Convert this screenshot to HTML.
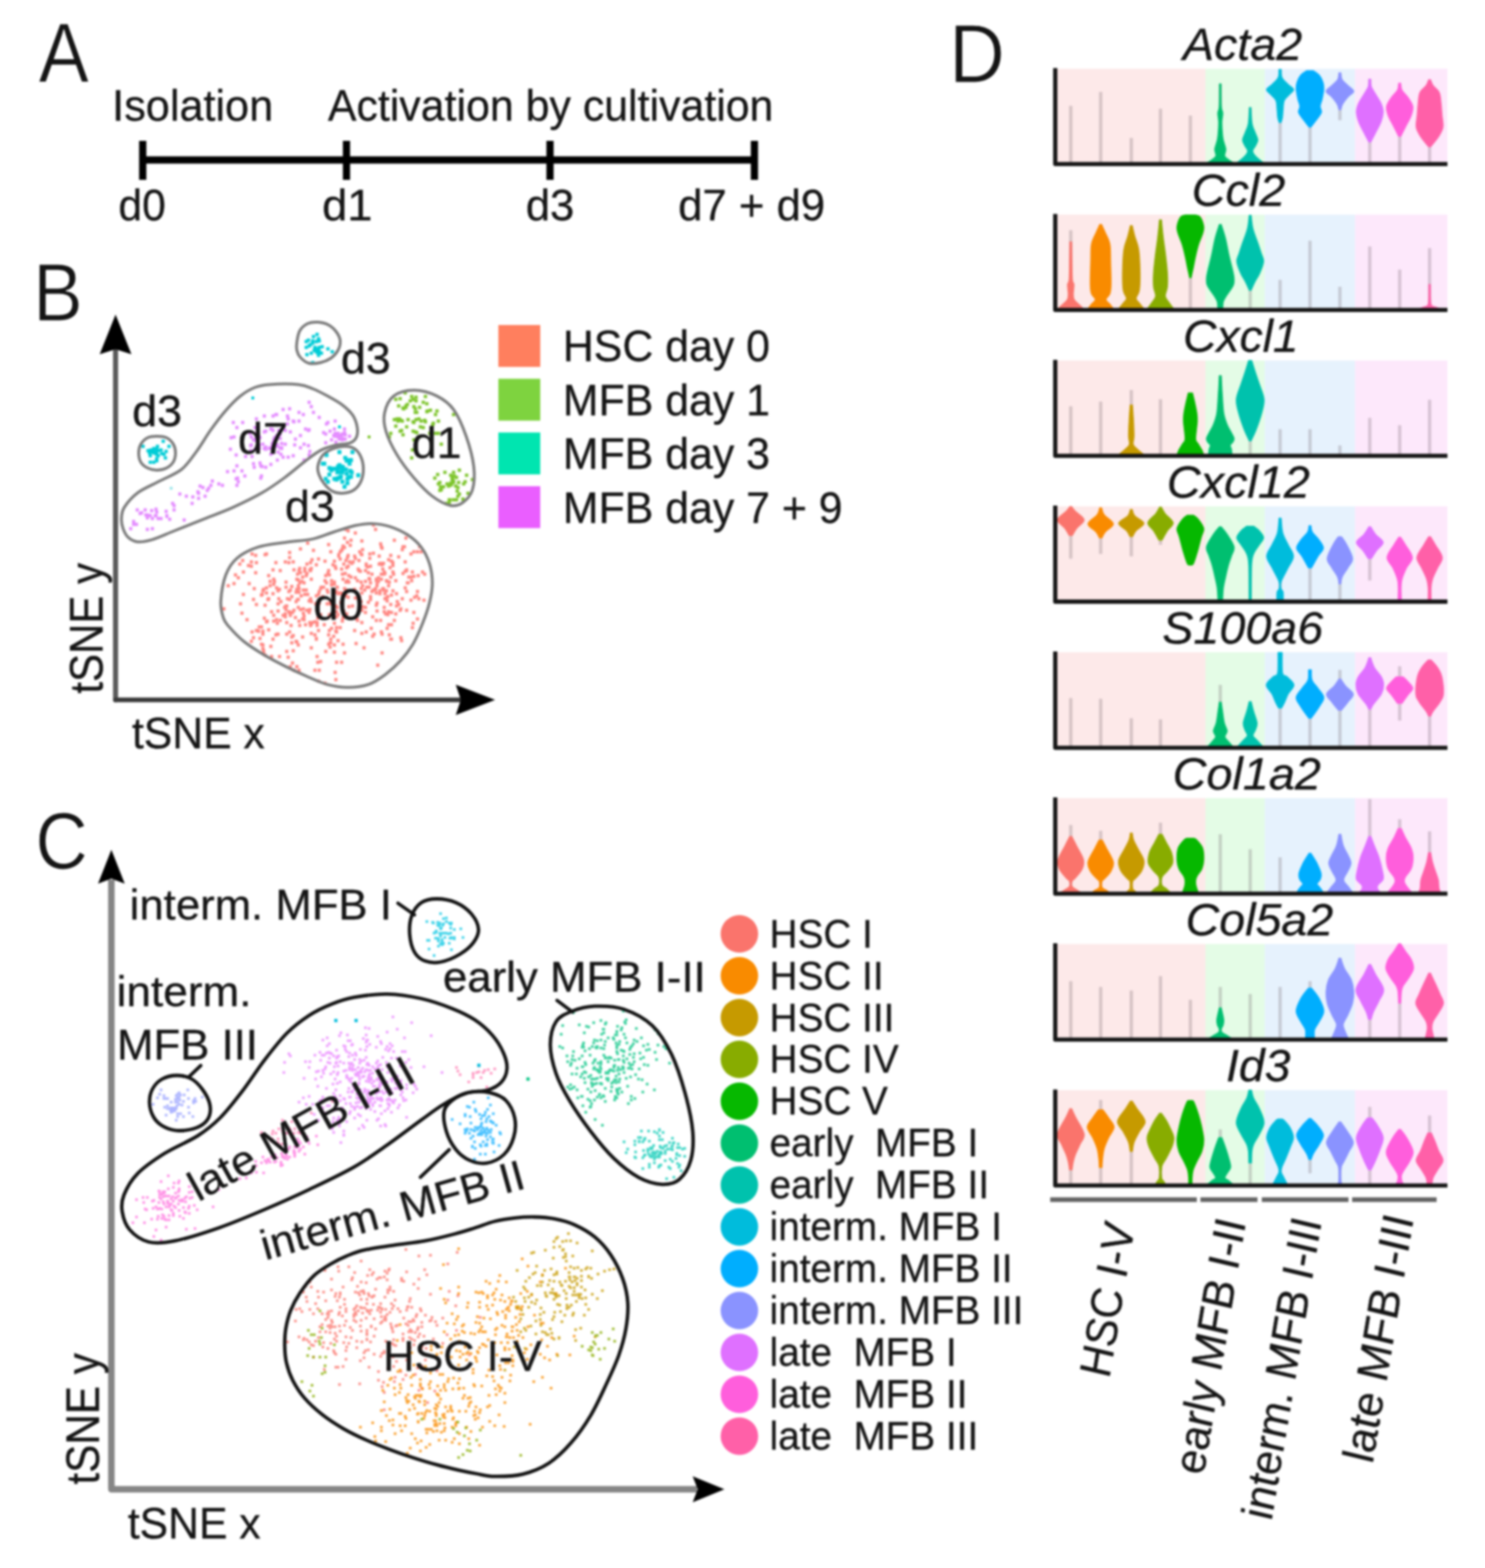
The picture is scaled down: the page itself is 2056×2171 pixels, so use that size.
<!DOCTYPE html>
<html lang="en">
<head>
<meta charset="utf-8">
<title>Figure: HSC activation tSNE and violin plots</title>
<style>
html,body{margin:0;padding:0;background:#fff;}
body{width:2056px;height:2171px;overflow:hidden;}
svg{display:block;font-family:"Liberation Sans",Arial,Helvetica,sans-serif;filter:blur(1.8px);}
svg text{fill:#141414;}
</style>
</head>
<body>
<svg width="2056" height="2171" viewBox="0 0 2056 2171">
<rect x="0" y="0" width="2056" height="2171" fill="#fff"/>
<!-- part_a -->
<text transform="translate(53.4 113.6) scale(0.890 1)" font-size="117.3" fill="#000" stroke="#fff" stroke-width="1.2" stroke-linejoin="round">A</text>
<text x="155.3" y="167.0" font-size="62.0" textLength="222.9" lengthAdjust="spacingAndGlyphs" stroke="#141414" stroke-width="0.4" xml:space="preserve">Isolation</text>
<text x="453.9" y="167.0" font-size="62.0" textLength="617.0" lengthAdjust="spacingAndGlyphs" stroke="#141414" stroke-width="0.4" xml:space="preserve">Activation by cultivation</text>
<g stroke="#000" stroke-width="10" fill="none">
<path d="M197.5,221.5H1044.5"/>
<path d="M197.6,195V249"/>
<path d="M479.7,195V249"/>
<path d="M761.5,195V249"/>
<path d="M1044.5,195V249"/>
</g>
<text x="163.9" y="305.0" font-size="61.0" textLength="65.6" lengthAdjust="spacingAndGlyphs" stroke="#141414" stroke-width="0.4" xml:space="preserve">d0</text>
<text x="445.9" y="305.0" font-size="61.0" textLength="69.9" lengthAdjust="spacingAndGlyphs" stroke="#141414" stroke-width="0.4" xml:space="preserve">d1</text>
<text x="728.0" y="305.0" font-size="61.0" textLength="67.2" lengthAdjust="spacingAndGlyphs" stroke="#141414" stroke-width="0.4" xml:space="preserve">d3</text>
<text x="939.0" y="305.0" font-size="61.0" textLength="203.4" lengthAdjust="spacingAndGlyphs" stroke="#141414" stroke-width="0.4" xml:space="preserve">d7 + d9</text>
<!-- part_b -->
<text transform="translate(45.7 443.6) scale(0.917 1)" font-size="112.6" fill="#000" stroke="#fff" stroke-width="1.2" stroke-linejoin="round">B</text>
<path d="M160,486V969" fill="none" stroke="#585858" stroke-width="7" stroke-linecap="round"/>
<path d="M160,969H640" fill="none" stroke="#3a3a3a" stroke-width="6.5" stroke-linecap="round"/>
<path d="M160.0,435.5L182.0,490.5L160.0,483.5L138.0,490.5Z" fill="#000"/>
<path d="M685.5,969.0L631.0,990.0L638.0,969.0L631.0,948.0Z" fill="#000"/>
<text x="182.7" y="1036.0" font-size="62.0" textLength="183.9" lengthAdjust="spacingAndGlyphs" stroke="#141414" stroke-width="0.4" xml:space="preserve">tSNE x</text>
<text transform="translate(142.0 959.5) rotate(-90.00)" x="-0.9" y="0" font-size="64.0" textLength="181.0" lengthAdjust="spacingAndGlyphs" stroke="#141414" stroke-width="0.4" xml:space="preserve">tSNE y</text>
<path d="M563,789h0M542,865h0M434,762h0M534,850h0M473,917h0M468,822h0M379,809h0M385,836h0M471,821h0M367,907h0M539,879h0M399,910h0M355,837h0M500,767h0M420,817h0M495,859h0M404,812h0M429,789h0M335,849h0M518,878h0M550,833h0M483,840h0M498,827h0M476,781h0M530,815h0M474,859h0M510,834h0M531,815h0M475,892h0M401,875h0M563,819h0M395,854h0M544,779h0M588,795h0M545,795h0M529,904h0M358,874h0M515,819h0M356,873h0M412,795h0M354,769h0M583,764h0M415,787h0M479,825h0M536,805h0M423,865h0M401,830h0M501,845h0M349,875h0M479,776h0M481,804h0M514,870h0M452,807h0M522,846h0M351,883h0M450,804h0M450,777h0M422,791h0M528,757h0M383,858h0M486,748h0M411,802h0M513,807h0M465,787h0M546,748h0M561,791h0M528,875h0M538,847h0M431,787h0M360,884h0M436,861h0M400,779h0M364,898h0M448,813h0M442,819h0M554,845h0M529,782h0M473,822h0M552,837h0M466,875h0M506,848h0M404,890h0M438,782h0M508,813h0M477,745h0M420,849h0M453,836h0M345,808h0M504,897h0M413,841h0M337,823h0M472,834h0M450,946h0M389,833h0M364,893h0M374,811h0M467,813h0M486,799h0M485,755h0M472,821h0M410,888h0M401,848h0M392,852h0M548,804h0M578,857h0M541,885h0M540,786h0M415,807h0M566,799h0M533,829h0M370,860h0M512,802h0M483,797h0M488,839h0M507,875h0M455,879h0M560,757h0M474,824h0M330,800h0M431,864h0M354,793h0M410,833h0M552,771h0M567,799h0M510,793h0M402,852h0M458,885h0M482,769h0M444,916h0M528,802h0M369,821h0M521,838h0M422,787h0M430,779h0M388,859h0M396,806h0M571,869h0M506,805h0M455,754h0M466,819h0M385,878h0M455,855h0M394,841h0M526,822h0M482,827h0M379,802h0M439,862h0M436,928h0M371,830h0M378,789h0M366,856h0M563,845h0M457,896h0M455,790h0M382,779h0M401,772h0M489,778h0M369,767h0M475,855h0M385,846h0M461,782h0M363,823h0M497,790h0M437,836h0M310,843h0M527,859h0M530,788h0M396,844h0M387,816h0M414,928h0M378,885h0M372,872h0M428,848h0M506,841h0M445,813h0M570,804h0M454,820h0M444,851h0M486,856h0M364,818h0M573,764h0M524,800h0M501,768h0M429,862h0M549,822h0M520,733h0M498,829h0M500,815h0M561,814h0M501,877h0M542,777h0M479,806h0M463,893h0M365,901h0M581,757h0M324,808h0M520,815h0M401,765h0M421,807h0M439,866h0M513,826h0M438,825h0M404,882h0M376,847h0M538,865h0M473,788h0M569,799h0M400,847h0M441,873h0M538,775h0M465,839h0M413,893h0M359,868h0M557,829h0M455,892h0M491,770h0M516,881h0M571,792h0M482,735h0M459,810h0M342,858h0M587,831h0M459,809h0M410,820h0M383,814h0M513,784h0M419,882h0M462,830h0M513,830h0M403,866h0M532,847h0M396,839h0M569,767h0M464,931h0M522,809h0M512,767h0M546,859h0M411,816h0M558,794h0M468,887h0M569,831h0M414,860h0M533,794h0M430,866h0M555,843h0M535,804h0M453,817h0M438,884h0M400,819h0M500,806h0M451,902h0M333,836h0M468,851h0M580,829h0M565,807h0M402,817h0M465,941h0M379,860h0M480,850h0M384,863h0M425,781h0M417,825h0M556,887h0M563,790h0M495,828h0M375,895h0M398,829h0M444,815h0M429,844h0M459,870h0M364,874h0M456,873h0M531,817h0M471,764h0M316,811h0M459,804h0M480,786h0M397,878h0M462,881h0M407,845h0M573,798h0M431,833h0M541,799h0M544,783h0M531,795h0M522,811h0M465,820h0M458,764h0M422,823h0M388,790h0M431,877h0M476,846h0M380,805h0M478,794h0M535,828h0M542,848h0M539,806h0M507,783h0M425,845h0M517,727h0M442,835h0M492,773h0M521,804h0M482,784h0M474,860h0M336,776h0M372,829h0M535,818h0M529,878h0M537,826h0M365,816h0M532,792h0M348,784h0M533,822h0M544,792h0M544,818h0M413,803h0M441,774h0M413,811h0M497,776h0M365,903h0M492,800h0M385,818h0M362,892h0M562,745h0M538,811h0M466,847h0M386,829h0M477,904h0M529,759h0M426,823h0M574,827h0M501,862h0M395,778h0M521,859h0M572,863h0M561,778h0M419,799h0M362,824h0M449,865h0M376,909h0M479,733h0M463,806h0M494,857h0M464,784h0M466,917h0M517,766h0M579,797h0M511,813h0M523,921h0M440,917h0M496,788h0M413,830h0M442,928h0M425,794h0M355,873h0M460,850h0M502,840h0M411,889h0M432,862h0M524,805h0M424,797h0M344,783h0M491,816h0M471,774h0M475,802h0M456,851h0M379,852h0M549,839h0M491,873h0M355,779h0M531,780h0M578,819h0M416,760h0M406,901h0M577,825h0M465,874h0M428,832h0M507,781h0M512,773h0M367,768h0M441,823h0M536,870h0M458,890h0M409,855h0M536,832h0M407,928h0M525,770h0M412,830h0M411,923h0M387,909h0M424,817h0M542,885h0M436,879h0M496,849h0M348,778h0M494,856h0M555,883h0M414,820h0M422,823h0M463,863h0M471,869h0M395,850h0M469,770h0M500,833h0M431,802h0M527,753h0M557,761h0M457,836h0M407,789h0M462,847h0M414,815h0M521,802h0M441,943h0M541,837h0M492,738h0M426,752h0M419,857h0M406,778h0M378,822h0M492,828h0M578,764h0M528,795h0M439,909h0M351,830h0M406,880h0M337,792h0M372,797h0M430,790h0M481,751h0M348,888h0M499,791h0M477,758h0M415,866h0M432,775h0M421,858h0M487,780h0M438,885h0M430,829h0M440,856h0M474,760h0M517,817h0M564,807h0M502,761h0M397,839h0M484,778h0M405,918h0M326,796h0M558,757h0M463,777h0M369,814h0M396,813h0M516,854h0M522,835h0M374,805h0M511,801h0M454,794h0M502,811h0M397,902h0M548,850h0M421,853h0M367,838h0M456,796h0M474,795h0M537,851h0M416,793h0M447,826h0M463,903h0M532,841h0M473,762h0M397,862h0M526,818h0M481,772h0M475,756h0M402,923h0M483,806h0M349,767h0M466,854h0M501,749h0M498,764h0M414,790h0M382,879h0M506,790h0M542,824h0M525,781h0M515,795h0M466,869h0M520,816h0M479,817h0M505,817h0M527,780h0M332,781h0M451,797h0M418,805h0M405,848h0M509,785h0M457,890h0M364,878h0M495,804h0M521,821h0M404,826h0M463,809h0M384,878h0M420,843h0M493,891h0M467,841h0M369,861h0M573,848h0M416,844h0M362,868h0M477,815h0M439,842h0M541,769h0M501,821h0M585,792h0M431,897h0M457,834h0M352,815h0M440,842h0M469,768h0" stroke="#ff8782" stroke-width="4.4" stroke-linecap="square" fill="none"/>
<path d="M335,652h0M330,667h0M457,597h0M427,596h0M468,600h0M398,576h0M414,571h0M383,603h0M359,605h0M377,614h0M349,632h0M347,617h0M378,576h0M477,599h0M355,580h0M478,602h0M208,714h0M219,718h0M380,606h0M390,614h0M241,706h0M340,632h0M361,645h0M477,594h0M384,637h0M181,732h0M381,607h0M388,601h0M463,594h0M211,732h0M434,571h0M327,663h0M281,675h0M429,625h0M388,607h0M189,726h0M239,697h0M275,690h0M352,647h0M266,697h0M392,567h0M323,585h0M360,641h0M292,672h0M215,714h0M374,620h0M384,618h0M362,659h0M249,684h0M348,605h0M216,705h0M474,601h0M329,662h0M470,608h0M382,574h0M354,608h0M399,633h0M395,596h0M204,717h0M395,615h0M465,612h0M353,622h0M211,718h0M464,604h0M358,601h0M275,683h0M442,578h0M204,713h0M327,630h0M328,645h0M386,596h0M379,609h0M320,606h0M185,726h0M401,566h0M376,594h0M346,600h0M462,603h0M373,621h0M468,605h0M382,608h0M351,642h0M392,633h0M452,587h0M409,608h0M420,574h0M355,600h0M474,607h0M359,621h0M223,718h0M428,557h0M210,707h0M428,630h0M431,563h0M474,609h0M406,583h0M353,592h0M368,622h0M368,597h0M376,588h0M206,714h0M389,629h0M423,594h0M368,619h0M231,715h0M255,720h0M336,585h0M324,605h0M388,620h0M359,616h0M393,594h0M364,615h0M473,602h0M484,604h0M351,609h0M284,687h0M398,587h0M328,672h0M294,666h0M328,592h0M277,673h0M406,631h0M464,600h0M377,616h0M451,601h0M354,610h0M399,580h0M231,714h0M235,719h0M421,637h0M408,616h0M287,679h0M385,626h0M427,617h0M383,574h0M289,676h0M414,583h0M363,646h0M464,583h0M366,598h0M375,643h0M454,585h0M469,604h0M258,687h0M375,594h0M378,596h0M347,624h0M384,616h0M360,606h0M416,620h0M451,613h0M407,584h0M194,711h0M339,659h0M366,621h0M366,576h0M315,653h0M217,709h0M330,667h0M375,629h0M472,603h0M416,603h0M274,681h0M241,700h0M190,706h0M428,595h0M402,598h0M448,599h0M308,672h0M324,652h0M390,621h0M421,615h0M303,670h0M267,688h0M319,622h0M202,713h0M478,608h0M196,710h0M459,609h0M348,616h0M216,714h0M390,620h0M185,722h0M230,708h0M378,627h0M361,662h0M379,611h0M368,647h0M201,706h0M204,733h0" stroke="#e48cff" stroke-width="4.4" stroke-linecap="square" fill="none"/>
<path d="M618,697h0M642,670h0M610,674h0M624,658h0M641,691h0M558,602h0M635,668h0M607,600h0M633,680h0M632,692h0M603,574h0M605,569h0M581,564h0M552,562h0M609,679h0M557,583h0M623,672h0M619,670h0M541,600h0M589,584h0M628,574h0M595,600h0M556,596h0M646,658h0M555,582h0M628,654h0M576,555h0M550,580h0M616,654h0M599,588h0M614,674h0M575,598h0M596,568h0M573,563h0M568,555h0M622,693h0M573,609h0M636,684h0M627,664h0M576,581h0M628,667h0M565,581h0M575,566h0M591,559h0M644,667h0M562,562h0M580,605h0M631,673h0M600,586h0M561,544h0M570,549h0M611,678h0M572,584h0M642,693h0M634,675h0M624,669h0M586,592h0M611,615h0M539,605h0M554,597h0M583,583h0M607,670h0M553,580h0M606,657h0M582,591h0M570,634h0M555,582h0M559,566h0M591,570h0M551,583h0M573,585h0M648,683h0M577,571h0M548,553h0M602,662h0M577,599h0M609,668h0M622,697h0M623,692h0M634,687h0M564,560h0M558,565h0M622,692h0M575,571h0M589,549h0M572,553h0M603,600h0M628,692h0M571,623h0M562,564h0M632,661h0M621,673h0M592,569h0M654,664h0M588,582h0M576,550h0M580,580h0M629,659h0M548,590h0M563,591h0M636,651h0M546,581h0M572,597h0M586,557h0M626,660h0M554,552h0M607,583h0M627,668h0M625,671h0M626,664h0" stroke="#7cc42a" stroke-width="4.6" stroke-linecap="square" fill="none"/>
<path d="M438,473h0M433,502h0M424,481h0M436,481h0M430,477h0M427,471h0M428,479h0M433,475h0M438,483h0M433,472h0M438,486h0M437,486h0M439,463h0M435,485h0M441,491h0M441,492h0M425,491h0M441,469h0M434,466h0M442,472h0M446,480h0M442,481h0M441,484h0M439,488h0M431,489h0M460,487h0M445,489h0M442,487h0M424,473h0M454,483h0" stroke="#00ccd6" stroke-width="4.6" stroke-linecap="square" fill="none"/>
<path d="M198,618h0M213,627h0M224,628h0M217,635h0M229,634h0M213,621h0M209,623h0M213,640h0M217,622h0M227,629h0M226,611h0M208,640h0M205,624h0M212,624h0M208,624h0M218,618h0M216,628h0M219,631h0M208,631h0M217,629h0M219,624h0M230,625h0M207,627h0M208,631h0M234,618h0M216,626h0M209,626h0M223,623h0M217,638h0M217,622h0" stroke="#00ccd6" stroke-width="4.6" stroke-linecap="square" fill="none"/>
<path d="M470,646h0M447,642h0M458,649h0M471,661h0M467,650h0M468,646h0M470,644h0M474,667h0M470,626h0M482,637h0M481,663h0M452,630h0M456,657h0M479,650h0M473,646h0M469,654h0M487,654h0M467,654h0M451,663h0M449,642h0M481,669h0M478,634h0M475,647h0M459,651h0M471,648h0M483,661h0M496,658h0M472,660h0M474,654h0M480,656h0M463,649h0M480,638h0M456,648h0M474,651h0M485,652h0M486,637h0M486,660h0M488,626h0M454,667h0M463,663h0M484,642h0M477,674h0M466,664h0M468,662h0M471,654h0" stroke="#00ccd6" stroke-width="5.4" stroke-linecap="square" fill="none"/>
<path d="M350,551h0M470,591h0" stroke="#00ccd6" stroke-width="4.0" stroke-linecap="square" fill="none"/>
<path d="M237,676h0" stroke="#9fe6ea" stroke-width="4.0" stroke-linecap="square" fill="none"/>
<path d="M511,605h0" stroke="#7cc42a" stroke-width="4.0" stroke-linecap="square" fill="none"/>
<path d="M168.2,717.7C168.5,712.8 168.3,708.5 172.0,702.6C175.7,696.7 182.4,688.4 190.6,682.3C198.8,676.2 210.9,671.5 221.0,666.1C231.1,660.7 243.0,656.6 251.4,649.9C259.9,643.1 264.9,634.7 271.7,625.6C278.4,616.5 285.1,604.7 291.9,595.2C298.6,585.8 305.4,576.7 312.2,568.9C318.9,561.1 325.6,554.0 332.4,548.6C339.1,543.2 345.9,539.2 352.7,536.5C359.4,533.8 362.8,533.1 372.9,532.4C383.0,531.7 403.3,531.4 413.4,532.4C423.5,533.4 426.9,535.8 433.7,538.5C440.5,541.2 447.2,544.9 454.0,548.6C460.8,552.3 468.5,556.4 474.2,560.8C479.9,565.2 485.0,569.8 488.4,574.9C491.8,580.0 493.6,586.0 494.5,591.1C495.4,596.2 495.2,601.6 493.5,605.3C491.8,609.0 489.2,611.5 484.3,613.4C479.4,615.3 470.9,614.8 464.1,616.5C457.4,618.2 450.6,620.1 443.8,623.6C437.1,627.1 432.0,631.3 423.6,637.7C415.2,644.1 403.3,654.6 393.2,662.0C383.1,669.4 374.6,675.5 362.8,682.3C351.0,689.1 335.8,696.5 322.3,702.6C308.8,708.7 295.3,713.4 281.8,718.8C268.3,724.2 253.1,730.3 241.3,735.0C229.5,739.7 219.4,744.6 210.9,747.1C202.4,749.6 196.2,750.7 190.6,750.2C185.0,749.7 180.9,747.2 177.5,744.1C174.1,741.0 172.0,736.3 170.4,731.9C168.8,727.5 167.9,722.6 168.2,717.7Z" fill="none" stroke="#7c7c7c" stroke-width="4"/>
<path d="M411.0,474.0C411.7,469.5 412.5,462.3 415.0,458.0C417.5,453.7 421.8,450.0 426.0,448.0C430.2,446.0 435.2,445.7 440.0,446.0C444.8,446.3 450.7,447.7 455.0,450.0C459.3,452.3 463.3,456.3 466.0,460.0C468.7,463.7 470.7,467.8 471.0,472.0C471.3,476.2 470.2,481.0 468.0,485.0C465.8,489.0 462.0,493.2 458.0,496.0C454.0,498.8 449.0,500.8 444.0,502.0C439.0,503.2 432.7,504.2 428.0,503.0C423.3,501.8 418.8,498.0 416.0,495.0C413.2,492.0 411.8,488.5 411.0,485.0C410.2,481.5 410.3,478.5 411.0,474.0Z" fill="none" stroke="#7c7c7c" stroke-width="4"/>
<path d="M192.0,627.0C192.0,622.8 192.9,618.5 195.0,615.0C197.1,611.5 200.8,607.8 204.5,606.0C208.2,604.2 212.7,604.0 217.0,604.0C221.3,604.0 226.7,604.2 230.5,606.0C234.3,607.8 237.9,611.5 240.0,615.0C242.1,618.5 243.0,622.9 243.0,627.0C243.0,631.1 242.1,636.0 240.0,639.5C237.9,643.0 234.3,646.1 230.5,648.0C226.7,649.9 221.3,651.0 217.0,651.0C212.7,651.0 208.2,649.8 204.5,648.0C200.8,646.2 197.1,643.5 195.0,640.0C192.9,636.5 192.0,631.2 192.0,627.0Z" fill="none" stroke="#7c7c7c" stroke-width="4"/>
<path d="M440.0,646.0C440.8,641.3 443.3,634.2 447.0,630.0C450.7,625.8 456.8,623.0 462.0,621.0C467.2,619.0 473.0,617.8 478.0,618.0C483.0,618.2 488.2,619.0 492.0,622.0C495.8,625.0 499.2,630.8 501.0,636.0C502.8,641.2 503.3,647.7 503.0,653.0C502.7,658.3 501.3,663.7 499.0,668.0C496.7,672.3 493.2,676.5 489.0,679.0C484.8,681.5 478.8,682.8 474.0,683.0C469.2,683.2 464.2,682.2 460.0,680.0C455.8,677.8 452.0,673.7 449.0,670.0C446.0,666.3 443.5,662.0 442.0,658.0C440.5,654.0 439.2,650.7 440.0,646.0Z" fill="none" stroke="#7c7c7c" stroke-width="4"/>
<path d="M532.4,572.0C534.1,563.8 538.2,553.7 545.0,548.4C551.8,543.1 563.0,540.3 573.0,540.3C583.0,540.3 595.8,543.8 605.0,548.4C614.2,553.0 621.7,558.3 628.4,567.6C635.1,576.9 640.8,590.9 645.4,604.0C650.0,617.1 654.6,634.1 656.0,646.5C657.4,658.9 656.5,670.3 654.0,678.5C651.5,686.7 646.0,692.0 641.0,695.6C636.0,699.2 631.1,701.4 624.0,700.0C616.9,698.6 607.0,693.4 598.5,687.0C590.0,680.6 581.2,671.1 573.0,661.5C564.8,651.9 555.9,640.2 549.5,629.5C543.1,618.8 537.4,607.1 534.5,597.5C531.6,587.9 530.6,580.2 532.4,572.0Z" fill="none" stroke="#7c7c7c" stroke-width="4"/>
<path d="M305.7,832.4C306.3,822.5 308.9,805.9 312.6,796.0C316.3,786.1 320.6,779.3 328.0,772.9C335.4,766.5 345.6,761.3 356.8,757.6C368.0,753.9 382.3,752.8 395.1,750.9C407.9,749.0 422.3,748.5 433.5,746.1C444.7,743.7 452.7,739.5 462.3,736.5C471.9,733.5 482.5,729.7 491.1,727.8C499.7,725.9 506.1,724.7 514.1,724.9C522.1,725.1 530.8,726.2 539.1,728.8C547.4,731.4 556.6,735.5 564.0,740.3C571.4,745.1 578.1,750.9 583.2,757.6C588.3,764.3 592.1,772.3 594.7,780.6C597.3,788.9 598.6,798.5 598.6,807.5C598.6,816.5 597.0,825.0 594.7,834.3C592.5,843.6 588.9,853.5 585.1,863.1C581.3,872.7 576.8,883.3 571.7,891.9C566.6,900.5 560.8,907.9 554.4,914.9C548.0,921.9 540.6,928.6 533.3,934.1C525.9,939.6 518.9,944.7 510.3,947.6C501.7,950.5 491.1,951.8 481.5,951.8C471.9,951.8 462.3,950.2 452.7,947.6C443.1,945.0 433.5,940.2 423.9,936.0C414.3,931.8 404.7,927.4 395.1,922.6C385.5,917.8 376.0,913.0 366.4,907.3C356.8,901.5 345.9,894.8 337.6,888.1C329.3,881.4 321.2,872.5 316.5,867.0C311.8,861.5 311.0,861.2 309.2,855.4C307.4,849.6 305.1,842.3 305.7,832.4Z" fill="none" stroke="#7c7c7c" stroke-width="4"/>
<text x="472.0" y="516.5" font-size="62.0" textLength="69.0" lengthAdjust="spacingAndGlyphs" stroke="#141414" stroke-width="0.4" xml:space="preserve">d3</text>
<text x="183.0" y="590.0" font-size="62.0" textLength="69.0" lengthAdjust="spacingAndGlyphs" stroke="#141414" stroke-width="0.4" xml:space="preserve">d3</text>
<text x="329.5" y="628.4" font-size="62.0" textLength="69.0" lengthAdjust="spacingAndGlyphs" stroke="#141414" stroke-width="0.4" xml:space="preserve">d7</text>
<text x="394.5" y="722.0" font-size="62.0" textLength="69.0" lengthAdjust="spacingAndGlyphs" stroke="#141414" stroke-width="0.4" xml:space="preserve">d3</text>
<text x="570.0" y="633.7" font-size="62.0" textLength="69.0" lengthAdjust="spacingAndGlyphs" stroke="#141414" stroke-width="0.4" xml:space="preserve">d1</text>
<text x="434.0" y="857.6" font-size="62.0" textLength="69.0" lengthAdjust="spacingAndGlyphs" stroke="#141414" stroke-width="0.4" xml:space="preserve">d0</text>
<rect x="690" y="450.0" width="58" height="58" fill="#ff7f5e"/>
<text x="779.3" y="500.3" font-size="61.7" textLength="286.7" lengthAdjust="spacingAndGlyphs" stroke="#141414" stroke-width="0.4" xml:space="preserve">HSC day 0</text>
<rect x="690" y="524.4" width="58" height="58" fill="#7ed33f"/>
<text x="779.3" y="574.7" font-size="61.7" textLength="286.7" lengthAdjust="spacingAndGlyphs" stroke="#141414" stroke-width="0.4" xml:space="preserve">MFB day 1</text>
<rect x="690" y="598.8" width="58" height="58" fill="#00e5b0"/>
<text x="779.3" y="649.1" font-size="61.7" textLength="286.7" lengthAdjust="spacingAndGlyphs" stroke="#141414" stroke-width="0.4" xml:space="preserve">MFB day 3</text>
<rect x="690" y="673.2" width="58" height="58" fill="#ea5eff"/>
<text x="779.3" y="723.5" font-size="61.7" textLength="387.3" lengthAdjust="spacingAndGlyphs" stroke="#141414" stroke-width="0.4" xml:space="preserve">MFB day 7 + 9</text>
<!-- part_c -->
<text transform="translate(49.1 1202.5) scale(0.898 1)" font-size="111.9" fill="#000" stroke="#fff" stroke-width="1.2" stroke-linejoin="round">C</text>
<path d="M154.2,1218V2062H965" fill="none" stroke="#858585" stroke-width="9" stroke-linejoin="round"/>
<path d="M154.2,1176.5L172.7,1223.5L154.2,1216.5L135.7,1223.5Z" fill="#000"/>
<path d="M1003.0,2062.0L959.0,2080.0L966.0,2062.0L959.0,2044.0Z" fill="#000"/>
<text x="176.9" y="2129.7" font-size="61.5" textLength="183.9" lengthAdjust="spacingAndGlyphs" stroke="#141414" stroke-width="0.4" xml:space="preserve">tSNE x</text>
<text transform="translate(136.5 2054.5) rotate(-90.00)" x="-0.9" y="0" font-size="64.0" textLength="182.0" lengthAdjust="spacingAndGlyphs" stroke="#141414" stroke-width="0.4" xml:space="preserve">tSNE y</text>
<rect x="160" y="2131.2" width="230" height="40" fill="#fff"/>
<path d="M522,1771h0M395,1853h0M544,1844h0M541,1833h0M464,1846h0M524,1810h0M527,1817h0M527,1805h0M570,1854h0M450,1759h0M398,1858h0M563,1883h0M491,1762h0M428,1858h0M509,1766h0M508,1799h0M564,1810h0M587,1850h0M425,1855h0M527,1769h0M517,1806h0M471,1810h0M518,1794h0M477,1806h0M578,1894h0M565,1809h0M501,1858h0M620,1800h0M532,1928h0M584,1922h0M548,1836h0M529,1830h0M544,1879h0M551,1812h0M562,1904h0M455,1816h0M508,1855h0M479,1851h0M536,1772h0M558,1847h0M592,1942h0M437,1805h0M566,1830h0M475,1892h0M463,1854h0M581,1847h0M585,1862h0M520,1785h0M457,1835h0M508,1848h0M543,1812h0M528,1823h0M464,1837h0M567,1852h0M504,1791h0M515,1765h0M576,1823h0M650,1876h0M540,1782h0M434,1879h0M556,1770h0M563,1761h0M540,1817h0M504,1790h0M583,1870h0M465,1791h0M545,1808h0M479,1816h0M613,1860h0M570,1844h0M451,1801h0M470,1836h0M504,1873h0M602,1926h0M603,1830h0M486,1852h0M556,1773h0M584,1837h0M425,1802h0M479,1812h0M466,1857h0M434,1863h0M529,1920h0M545,1855h0M508,1854h0M547,1800h0M440,1788h0M589,1883h0M525,1769h0M453,1819h0M536,1820h0M507,1776h0M468,1893h0M459,1828h0M514,1836h0M605,1835h0M451,1844h0M619,1848h0M527,1878h0M415,1812h0M588,1758h0M578,1841h0M633,1734h0M465,1893h0M508,1814h0M447,1865h0M460,1831h0M508,1805h0M524,1911h0M500,1843h0M514,1814h0M584,1865h0M490,1823h0M529,1813h0M558,1910h0M580,1925h0M508,1842h0M499,1810h0M511,1794h0M470,1796h0M573,1862h0M577,1820h0M533,1796h0M465,1875h0M463,1873h0M451,1827h0M532,1827h0M546,1913h0M503,1787h0M492,1811h0M560,1877h0M566,1844h0M518,1875h0M423,1781h0M528,1812h0M500,1799h0M580,1771h0M499,1810h0M490,1813h0M540,1786h0M534,1813h0M532,1873h0M410,1813h0M458,1835h0M573,1829h0M559,1774h0M500,1746h0M409,1829h0M539,1757h0M582,1812h0M598,1824h0M534,1825h0M634,1794h0M496,1790h0M494,1866h0M437,1857h0M421,1853h0M510,1791h0M543,1840h0M498,1916h0M584,1891h0M511,1815h0M622,1788h0M446,1819h0M632,1842h0M466,1850h0M573,1778h0M494,1857h0M537,1786h0M454,1836h0M532,1768h0M567,1802h0M570,1843h0M526,1810h0M479,1870h0M471,1792h0M431,1782h0M479,1829h0M583,1868h0M460,1837h0M516,1795h0M470,1917h0M520,1840h0M441,1796h0M506,1870h0M505,1811h0M431,1862h0M446,1834h0M418,1816h0M509,1816h0M532,1871h0M547,1907h0M613,1825h0M558,1856h0M459,1771h0M471,1790h0M470,1817h0M575,1845h0M469,1820h0M542,1805h0M579,1838h0M500,1788h0M543,1860h0M502,1818h0M414,1851h0M424,1796h0M499,1884h0M569,1830h0M467,1801h0M477,1799h0M533,1823h0M420,1789h0M512,1819h0M534,1828h0M631,1808h0M515,1796h0M420,1855h0M527,1832h0M545,1788h0M487,1772h0M448,1859h0M468,1754h0M538,1759h0M596,1792h0M443,1844h0M471,1843h0M537,1895h0M572,1827h0M548,1863h0M485,1838h0M493,1820h0M449,1896h0M479,1882h0M590,1867h0M563,1814h0M534,1857h0M457,1845h0M510,1869h0M597,1828h0M443,1837h0M584,1831h0M474,1822h0M529,1874h0M517,1762h0M568,1866h0M494,1808h0M523,1814h0M583,1815h0M493,1830h0M500,1828h0M537,1790h0M550,1835h0M504,1880h0M475,1782h0M441,1852h0M448,1789h0M565,1835h0M595,1829h0M558,1853h0M512,1758h0M529,1812h0M579,1851h0M496,1815h0M568,1798h0M499,1836h0M532,1952h0M440,1812h0M429,1775h0M591,1765h0M507,1825h0M476,1859h0M513,1858h0M483,1860h0M620,1750h0M490,1828h0M498,1793h0M501,1811h0M562,1833h0M492,1817h0M536,1763h0M579,1784h0M500,1775h0M596,1738h0M488,1769h0M589,1821h0M524,1899h0M605,1898h0M555,1899h0M492,1789h0M562,1730h0M554,1816h0M477,1835h0M462,1870h0M514,1837h0M533,1760h0M623,1890h0M570,1810h0M511,1893h0M454,1867h0M545,1892h0M574,1856h0M559,1825h0M469,1760h0M516,1795h0M459,1786h0M429,1813h0M580,1739h0M575,1903h0M549,1885h0M454,1824h0M545,1862h0M458,1860h0M464,1795h0M488,1842h0M568,1841h0M542,1837h0M455,1820h0M665,1824h0M457,1839h0M490,1820h0M600,1854h0M531,1914h0M483,1754h0M518,1826h0M459,1815h0M480,1865h0M495,1781h0M518,1850h0M434,1819h0M508,1846h0" stroke="#FA746C" stroke-width="3.7" stroke-linecap="square" fill="none" opacity="0.80"/>
<path d="M710,1883h0M572,1904h0M659,1948h0M641,1875h0M635,1791h0M758,1864h0M670,1825h0M664,2001h0M584,1957h0M722,1878h0M674,1808h0M626,1997h0M636,1857h0M678,1946h0M585,1923h0M649,1992h0M652,1941h0M603,1956h0M628,1908h0M556,1981h0M627,1923h0M589,1892h0M615,1921h0M588,1940h0M582,1919h0M650,1943h0M690,1774h0M731,1753h0M699,1802h0M694,1859h0M553,1957h0M634,1915h0M564,1942h0M635,1782h0M751,1765h0M692,1926h0M684,1912h0M673,1774h0M554,1897h0M783,1756h0M665,1952h0M528,1981h0M597,1869h0M660,1885h0M699,1929h0M720,1820h0M714,1824h0M748,1775h0M729,1868h0M655,1901h0M673,1864h0M709,1801h0M624,1950h0M696,1816h0M707,1904h0M596,1901h0M605,1875h0M721,1812h0M685,1799h0M675,1948h0M715,1834h0M735,1862h0M702,1847h0M590,1979h0M578,1958h0M605,1981h0M611,1873h0M575,1936h0M576,1932h0M604,1958h0M593,1979h0M631,1971h0M648,1936h0M678,1968h0M655,1896h0M736,1793h0M699,1866h0M739,1913h0M670,1862h0M569,1907h0M578,1932h0M636,1999h0M694,1922h0M528,1976h0M608,1942h0M615,1799h0M588,1960h0M615,1958h0M708,1802h0M570,1873h0M626,1819h0M763,1922h0M562,1935h0M602,1974h0M635,1848h0M594,1917h0M535,1960h0M616,1977h0M554,1917h0M604,1951h0M629,1833h0M613,1959h0M692,1766h0M687,1931h0M604,1960h0M707,1806h0M648,1804h0M726,1873h0M606,1919h0M635,1923h0M620,1913h0M610,1937h0M605,1974h0M591,1953h0M610,1784h0M625,1953h0M715,1809h0M695,1793h0M692,1891h0M582,1916h0M562,1964h0M634,1823h0M662,1873h0M679,1826h0M669,1844h0M542,1908h0M520,1995h0M604,1971h0M734,1972h0M709,1843h0M693,1896h0M615,1844h0M659,1881h0M581,1941h0M601,1967h0M609,1903h0M624,1947h0M581,1932h0M595,2000h0M534,1996h0M647,1810h0M561,1974h0M690,1918h0M603,1967h0M630,1849h0M678,1777h0M682,1807h0M586,1894h0M750,1855h0M644,1865h0M724,1852h0M663,1844h0M682,1793h0M710,1885h0M675,1794h0M617,1804h0M596,1913h0M564,2012h0M754,1880h0M685,1859h0M578,1998h0M700,1825h0M730,1788h0M723,1743h0M539,1967h0M752,1832h0M640,1836h0M540,1951h0M636,1985h0M625,1879h0M659,1831h0M676,1855h0M667,1919h0M643,1932h0M656,1960h0M740,1821h0M602,1950h0M651,1935h0M688,1839h0M615,1971h0M579,1969h0M652,1874h0M570,1918h0M668,1844h0M574,1934h0M600,1982h0M718,1849h0M748,1875h0M568,2005h0M607,1932h0M590,1876h0M719,1830h0M595,1922h0M684,1790h0M588,1945h0M689,1820h0M664,1956h0M550,1856h0M686,1923h0M583,1995h0M553,1928h0M641,1936h0M663,1790h0M614,1959h0M691,1959h0M631,1974h0M544,1973h0M617,1948h0M615,1981h0M591,1984h0M579,1968h0M547,1985h0M582,2009h0M699,1837h0M721,1791h0M636,1909h0M567,1952h0M686,1848h0M705,1868h0M616,1963h0M688,1817h0M554,1834h0M700,1887h0M555,1957h0M664,1810h0M565,1931h0M702,1851h0M704,1887h0M685,1974h0M551,1899h0M648,1872h0M731,1837h0M695,1907h0M597,1979h0M561,1961h0M636,1922h0M699,1869h0M519,1989h0M658,1965h0M609,1971h0M555,1922h0M659,1789h0M674,1905h0M664,1803h0M632,1870h0M626,1976h0M656,1917h0M617,1925h0M710,1891h0M771,1875h0M677,1897h0M637,1879h0M597,1864h0M537,1918h0M646,1883h0M723,1809h0M643,1845h0M699,1942h0M701,1813h0M530,1925h0M563,1939h0M620,1954h0M582,1934h0M516,1970h0M608,1994h0M698,1975h0M566,1940h0M614,1962h0M716,1857h0M687,1785h0M544,1966h0M658,1879h0M710,1837h0M606,1947h0M652,1846h0M764,1852h0M570,1985h0M642,1834h0M701,1851h0M602,1972h0M701,1775h0M706,1912h0M640,1843h0M646,1874h0M706,1852h0M717,1812h0M709,1837h0M749,1832h0M703,1811h0M617,1994h0M657,1954h0M637,1871h0M575,1992h0M675,1797h0M657,1919h0M589,1956h0M761,1883h0M572,1945h0M730,1882h0M582,1910h0M695,1835h0M624,1854h0M686,1841h0M688,1876h0M554,1974h0M629,1992h0M705,1815h0M499,1976h0M703,1859h0M621,1909h0M664,1866h0M636,1954h0M662,1963h0M615,1917h0M665,1841h0M676,1813h0M652,1982h0M704,1810h0M700,1821h0M580,1940h0M619,1881h0M604,1945h0M632,1827h0M795,1850h0M664,1832h0M553,1877h0M726,1885h0M649,1947h0M611,1983h0M613,1903h0M789,1876h0M547,1931h0M635,1729h0M693,1800h0M711,1852h0M770,1791h0M692,1921h0M579,1957h0M626,1954h0M682,1906h0M646,1976h0M672,1844h0M587,1964h0M607,1891h0M532,1941h0M657,1847h0M709,1877h0M614,1751h0M645,1954h0M668,1976h0M619,1832h0M628,1963h0M716,1842h0M546,1922h0M606,1931h0M642,1922h0M668,1861h0M658,1959h0M573,1890h0M605,1930h0M574,1950h0M583,1932h0M669,1791h0M751,1907h0M677,1932h0M667,1837h0M635,1890h0M661,1823h0M528,1953h0M603,1878h0M612,1865h0M595,1954h0M705,1797h0M627,1965h0M540,1910h0M661,1871h0M590,2004h0M667,1789h0M632,1969h0M610,1925h0" stroke="#F98B00" stroke-width="3.7" stroke-linecap="square" fill="none" opacity="0.80"/>
<path d="M748,1827h0M799,1721h0M819,1770h0M733,1769h0M756,1794h0M788,1768h0M721,1826h0M795,1783h0M770,1796h0M770,1764h0M741,1762h0M783,1736h0M805,1759h0M753,1817h0M801,1793h0M791,1807h0M774,1852h0M714,1802h0M726,1797h0M793,1739h0M781,1787h0M721,1844h0M722,1814h0M735,1836h0M751,1766h0M784,1746h0M742,1829h0M790,1783h0M726,1839h0M769,1793h0M844,1758h0M749,1811h0M790,1754h0M743,1800h0M725,1782h0M727,1802h0M765,1785h0M793,1793h0M797,1841h0M712,1865h0M716,1759h0M782,1821h0M771,1764h0M751,1844h0M736,1803h0M779,1719h0M800,1755h0M766,1742h0M754,1759h0M749,1835h0M738,1764h0M732,1810h0M818,1756h0M769,1791h0M739,1734h0M789,1772h0M798,1802h0M767,1791h0M806,1798h0M828,1764h0M755,1790h0M767,1765h0M815,1767h0M765,1790h0M788,1762h0M804,1792h0M765,1827h0M850,1757h0M755,1731h0M772,1794h0M796,1768h0M784,1798h0M778,1780h0M779,1731h0M799,1770h0M837,1760h0M748,1820h0M811,1806h0M788,1810h0M732,1796h0M813,1755h0M801,1792h0M772,1877h0M793,1821h0M728,1774h0M797,1793h0M711,1796h0M770,1715h0M827,1798h0M783,1774h0M774,1794h0M815,1768h0M757,1795h0M767,1823h0M792,1775h0M744,1780h0M796,1773h0M777,1779h0M804,1839h0M811,1757h0M815,1813h0M795,1788h0M820,1732h0M728,1842h0M797,1856h0M784,1718h0M784,1791h0M785,1812h0M763,1757h0M805,1782h0M802,1797h0M778,1830h0M699,1897h0M741,1805h0M767,1799h0M736,1792h0M809,1821h0M795,1768h0M771,1761h0M775,1775h0M824,1851h0M757,1848h0M751,1775h0M768,1817h0M724,1820h0M727,1867h0M775,1726h0M759,1779h0M767,1719h0M764,1846h0M783,1740h0M789,1768h0M727,1785h0M743,1753h0M755,1845h0M785,1811h0M775,1807h0M785,1807h0M788,1781h0M767,1774h0M762,1790h0M761,1773h0M742,1847h0M799,1777h0M787,1708h0M772,1713h0M780,1741h0M811,1797h0M834,1787h0M718,1809h0M799,1779h0M805,1767h0M820,1792h0M759,1848h0M802,1795h0M790,1718h0M795,1756h0M736,1735h0M767,1854h0M805,1773h0M794,1818h0M780,1730h0M715,1811h0M767,1727h0M762,1840h0M774,1853h0M810,1786h0M776,1816h0M772,1806h0M749,1780h0" stroke="#C69A00" stroke-width="3.7" stroke-linecap="square" fill="none" opacity="0.80"/>
<path d="M647,2008h0M584,1965h0M822,1858h0M443,1815h0M446,1902h0M815,1869h0M843,1854h0M628,1978h0M426,1877h0M428,1867h0M665,1980h0M635,2018h0M431,1848h0M721,2015h0M463,1862h0M434,1879h0M645,1977h0M451,1879h0M831,1882h0M427,1842h0M450,1900h0M450,1891h0M418,1913h0M824,1861h0M445,1852h0M849,1840h0M837,1867h0M446,1839h0M820,1866h0M434,1933h0M829,1868h0M818,1865h0M650,1999h0M643,1988h0M806,1864h0M634,1969h0M851,1857h0M660,1994h0M429,1926h0M820,1845h0M651,2009h0M832,1845h0M820,1876h0M442,1857h0M641,2014h0M443,1861h0M435,1848h0M609,1965h0M818,1870h0M827,1849h0M633,1983h0M825,1849h0M443,1879h0M821,1877h0M432,1918h0" stroke="#88AC00" stroke-width="3.7" stroke-linecap="square" fill="none" opacity="0.80"/>
<path d="M447,1519h0M455,1457h0M462,1462h0M464,1518h0M400,1459h0M491,1536h0M499,1545h0M510,1510h0M533,1538h0M467,1500h0M488,1482h0M523,1495h0M498,1494h0M525,1522h0M484,1481h0M522,1551h0M476,1572h0M536,1449h0M447,1534h0M414,1526h0M480,1489h0M563,1547h0M504,1490h0M536,1429h0M483,1507h0M527,1559h0M510,1494h0M467,1464h0M499,1453h0M515,1500h0M496,1509h0M483,1472h0M542,1465h0M519,1526h0M558,1520h0M492,1487h0M575,1504h0M501,1533h0M484,1542h0M572,1513h0M459,1459h0M453,1448h0M478,1449h0M462,1548h0M521,1514h0M523,1469h0M468,1485h0M447,1440h0M502,1479h0M570,1416h0M542,1494h0M460,1538h0M528,1524h0M513,1525h0M526,1494h0M453,1437h0M402,1462h0M436,1461h0M483,1494h0M466,1454h0M481,1492h0M573,1501h0M564,1486h0M500,1482h0M472,1582h0M527,1489h0M528,1445h0M528,1491h0M521,1450h0M545,1456h0M512,1487h0M517,1504h0M514,1492h0M462,1568h0M470,1559h0M393,1485h0M498,1484h0M513,1482h0M504,1468h0M558,1478h0M492,1458h0M548,1500h0M488,1479h0M612,1485h0M467,1535h0M522,1494h0M491,1508h0M577,1508h0M535,1512h0M534,1453h0M512,1446h0M499,1509h0M506,1532h0M519,1539h0M529,1492h0M433,1529h0M480,1492h0M528,1501h0M555,1496h0M536,1523h0M448,1486h0M479,1528h0M514,1495h0M529,1511h0M467,1488h0M559,1524h0M513,1521h0M509,1523h0M507,1443h0M469,1462h0M499,1521h0M485,1441h0M453,1531h0M563,1507h0M517,1521h0M457,1472h0M465,1525h0M511,1528h0M526,1531h0M510,1526h0M497,1490h0M444,1468h0M555,1516h0M471,1524h0M563,1502h0M521,1472h0M506,1423h0M471,1498h0M513,1536h0M429,1470h0M555,1509h0M450,1541h0M476,1483h0M460,1563h0M471,1517h0M435,1543h0M510,1524h0M489,1504h0M527,1474h0M537,1535h0M525,1512h0M526,1504h0M540,1452h0M497,1563h0M466,1471h0M487,1447h0M510,1492h0M508,1515h0M569,1478h0M544,1526h0M476,1448h0M508,1449h0M516,1529h0M394,1471h0M488,1512h0M447,1482h0M452,1458h0M484,1458h0M527,1492h0M533,1498h0M484,1496h0M461,1553h0M505,1508h0M511,1498h0M537,1485h0M508,1440h0M536,1429h0M497,1501h0M486,1498h0M488,1511h0M449,1461h0M509,1440h0M511,1475h0M508,1551h0M525,1503h0M496,1514h0M511,1424h0M507,1497h0M514,1519h0M428,1478h0M507,1535h0M557,1474h0M554,1499h0M437,1494h0M543,1497h0M479,1482h0M474,1534h0M530,1464h0M512,1523h0M526,1489h0M456,1531h0M554,1476h0M440,1504h0M487,1512h0M461,1501h0M550,1498h0M497,1526h0M495,1532h0M519,1480h0M516,1530h0M468,1476h0M450,1480h0M491,1548h0M562,1523h0M539,1529h0M537,1528h0M543,1513h0M551,1503h0M445,1523h0M538,1521h0M481,1433h0M485,1474h0M550,1425h0M516,1531h0M496,1487h0M527,1531h0M507,1464h0M523,1481h0M504,1561h0M495,1515h0M513,1495h0M494,1488h0M484,1478h0M557,1456h0M443,1457h0M497,1499h0M488,1461h0M485,1528h0M535,1471h0M529,1481h0M461,1520h0M469,1549h0M472,1430h0M548,1507h0M550,1490h0M534,1507h0M457,1458h0M529,1523h0M551,1534h0M438,1484h0M462,1484h0M557,1512h0M553,1530h0M523,1522h0M470,1434h0M539,1522h0M443,1524h0M510,1524h0M424,1529h0M536,1477h0M464,1494h0M533,1557h0M536,1498h0M506,1510h0M441,1483h0M477,1522h0M467,1551h0M500,1522h0M470,1555h0M480,1553h0M491,1533h0M507,1481h0M502,1524h0M524,1549h0M502,1491h0M466,1522h0M476,1521h0M496,1478h0M441,1551h0M498,1467h0M527,1442h0M487,1493h0M524,1487h0M542,1540h0M505,1484h0M491,1467h0M503,1438h0M531,1514h0M467,1463h0M548,1494h0M528,1542h0M483,1463h0M500,1485h0M527,1520h0M454,1471h0M566,1490h0M510,1474h0M446,1461h0M499,1534h0M597,1434h0M493,1489h0M507,1433h0M464,1537h0M550,1507h0M492,1481h0M541,1508h0M496,1521h0M522,1520h0M516,1477h0M561,1456h0M487,1532h0M518,1497h0M509,1472h0M480,1456h0M484,1519h0M500,1469h0M451,1477h0M421,1493h0M525,1475h0M482,1441h0M516,1486h0M506,1454h0M545,1527h0M493,1527h0M471,1470h0M566,1467h0M465,1472h0M538,1455h0M547,1523h0M420,1520h0M540,1445h0M464,1520h0M456,1445h0M543,1524h0M502,1558h0M445,1491h0M547,1507h0M504,1512h0M495,1485h0M528,1521h0M476,1571h0M485,1519h0M458,1487h0M543,1448h0M494,1520h0M544,1408h0M523,1477h0M456,1465h0M474,1539h0M463,1477h0M509,1519h0M469,1547h0M560,1437h0M522,1512h0M462,1514h0M539,1531h0M510,1482h0M488,1446h0M466,1465h0M549,1465h0M498,1517h0M452,1507h0M494,1515h0M526,1499h0M476,1566h0M534,1559h0M562,1471h0M487,1472h0M489,1475h0M493,1461h0M525,1491h0M540,1523h0M428,1518h0M496,1543h0M476,1472h0M510,1513h0M465,1509h0M525,1506h0M523,1435h0M498,1472h0M545,1493h0M587,1477h0M511,1489h0M482,1512h0M555,1501h0M519,1504h0M485,1539h0M478,1453h0M423,1470h0M508,1474h0" stroke="#ea86ff" stroke-width="3.7" stroke-linecap="square" fill="none" opacity="0.80"/>
<path d="M273,1675h0M232,1666h0M365,1624h0M440,1585h0M243,1652h0M262,1680h0M391,1600h0M224,1674h0M401,1588h0M412,1589h0M213,1662h0M407,1596h0M225,1682h0M414,1580h0M332,1632h0M241,1638h0M238,1676h0M228,1650h0M240,1681h0M223,1636h0M230,1689h0M414,1582h0M414,1594h0M213,1712h0M218,1674h0M248,1648h0M233,1628h0M220,1665h0M220,1649h0M247,1667h0M241,1670h0M204,1658h0M364,1602h0M355,1614h0M384,1603h0M200,1693h0M226,1664h0M248,1676h0M397,1601h0M234,1671h0M235,1669h0M382,1608h0M262,1643h0M221,1650h0M229,1656h0M401,1602h0M262,1651h0M232,1663h0M396,1598h0M391,1602h0M239,1657h0M234,1683h0M248,1635h0M198,1658h0M398,1605h0M227,1684h0M258,1657h0M234,1656h0M243,1672h0M248,1646h0M425,1574h0M224,1653h0M371,1607h0M341,1631h0M253,1663h0M184,1693h0M407,1593h0M233,1666h0M420,1588h0M211,1663h0M393,1591h0M240,1682h0M369,1610h0M189,1661h0M389,1612h0M240,1680h0M189,1685h0M422,1598h0M303,1647h0M408,1596h0M266,1658h0M400,1591h0M256,1659h0M376,1602h0M389,1614h0M379,1599h0M374,1609h0M372,1606h0M247,1656h0M408,1599h0M248,1662h0M289,1649h0M269,1669h0M247,1650h0M237,1660h0M438,1573h0M240,1644h0M270,1701h0M389,1609h0M428,1583h0M224,1687h0M240,1683h0M216,1703h0M211,1663h0M258,1702h0M381,1599h0M221,1654h0M426,1580h0M391,1613h0M219,1684h0M216,1671h0M393,1602h0M295,1671h0M201,1674h0M266,1650h0M254,1672h0M234,1689h0M228,1688h0M354,1608h0M396,1598h0M394,1604h0M223,1654h0M219,1674h0M226,1650h0M232,1664h0M257,1664h0M223,1660h0M408,1588h0M223,1717h0M249,1684h0M262,1670h0M244,1658h0M227,1667h0M233,1646h0M257,1679h0M367,1607h0M408,1601h0M231,1656h0M243,1659h0M256,1678h0M252,1661h0M416,1583h0M221,1673h0M218,1688h0M221,1658h0M412,1577h0M240,1663h0M230,1699h0M226,1657h0M251,1663h0M355,1623h0M212,1673h0M416,1591h0M227,1652h0M348,1624h0M199,1665h0M237,1675h0M261,1673h0M230,1671h0M374,1609h0M390,1597h0M263,1659h0M237,1667h0M362,1610h0M254,1687h0M203,1675h0M210,1688h0M371,1605h0M380,1609h0M247,1638h0" stroke="#ff78e0" stroke-width="3.7" stroke-linecap="square" fill="none" opacity="0.80"/>
<path d="M655,1488h0M407,1569h0M377,1570h0M674,1505h0M669,1485h0M391,1566h0M663,1476h0M376,1580h0M390,1584h0M413,1568h0M398,1562h0M378,1566h0M663,1484h0M655,1486h0M385,1582h0M685,1480h0M408,1563h0M362,1568h0M401,1563h0M377,1577h0M634,1483h0M637,1488h0M632,1478h0M460,1525h0M416,1569h0M671,1482h0M382,1569h0M649,1498h0M660,1485h0M431,1541h0M404,1553h0M386,1563h0M391,1551h0M680,1486h0M666,1492h0M385,1577h0M397,1569h0M655,1492h0M402,1565h0M676,1481h0" stroke="#ff7fb4" stroke-width="3.7" stroke-linecap="square" fill="none" opacity="0.80"/>
<path d="M465,1413h0M493,1413h0M663,1475h0" stroke="#00BCDC" stroke-width="4.5" stroke-linecap="square" fill="none"/>
<path d="M638,1286h0M613,1307h0M603,1299h0M629,1300h0M613,1292h0M610,1286h0M607,1310h0M600,1278h0M607,1303h0M605,1299h0M624,1280h0M625,1278h0M606,1277h0M607,1300h0M613,1281h0M610,1265h0M616,1298h0M614,1306h0M610,1294h0M592,1302h0M609,1278h0M614,1279h0M625,1298h0M606,1281h0M624,1292h0M625,1299h0M603,1291h0M604,1289h0M601,1292h0M593,1302h0M591,1276h0M599,1277h0M625,1315h0M611,1285h0M604,1291h0M614,1272h0M641,1298h0M618,1271h0M594,1302h0M623,1299h0M629,1287h0M624,1285h0M622,1306h0M610,1296h0M594,1314h0M609,1292h0M610,1285h0M612,1308h0M610,1307h0M612,1301h0M616,1292h0M601,1323h0M618,1292h0M609,1279h0M621,1293h0M618,1276h0M612,1304h0M622,1278h0M629,1298h0M608,1282h0" stroke="#10c8e4" stroke-width="3.7" stroke-linecap="square" fill="none" opacity="0.80"/>
<path d="M255,1516h0M244,1551h0M243,1522h0M252,1530h0M268,1527h0M239,1536h0M244,1535h0M271,1525h0M227,1521h0M212,1529h0M239,1534h0M221,1515h0M232,1535h0M246,1520h0M223,1509h0M254,1546h0M268,1524h0M254,1525h0M243,1534h0M246,1526h0M248,1529h0M249,1523h0M237,1540h0M261,1533h0M232,1531h0M242,1538h0M237,1526h0M230,1521h0M250,1542h0M245,1522h0M250,1516h0M248,1519h0M241,1535h0M261,1521h0M246,1515h0M239,1539h0M246,1542h0M245,1531h0M230,1544h0M260,1509h0M228,1533h0M280,1519h0M243,1526h0M244,1517h0M270,1521h0M262,1541h0M248,1513h0M232,1521h0M236,1534h0M240,1534h0M267,1546h0M246,1546h0M236,1537h0M218,1520h0M227,1517h0" stroke="#9aa2ff" stroke-width="3.7" stroke-linecap="square" fill="none" opacity="0.80"/>
<path d="M683,1577h0M683,1555h0M662,1571h0M673,1569h0M645,1566h0M666,1560h0M675,1578h0M691,1586h0M656,1526h0M674,1586h0M674,1584h0M666,1565h0M667,1569h0M683,1542h0M672,1540h0M658,1561h0M657,1566h0M662,1561h0M674,1563h0M655,1573h0M665,1571h0M666,1565h0M658,1590h0M679,1552h0M654,1588h0M654,1587h0M675,1536h0M683,1583h0M644,1569h0M644,1543h0M659,1539h0M682,1554h0M637,1556h0M667,1571h0M669,1581h0M676,1565h0M646,1565h0M682,1582h0M682,1578h0M652,1564h0M665,1598h0M671,1565h0M679,1530h0M644,1545h0M664,1543h0M671,1567h0M651,1546h0M656,1565h0M676,1520h0M673,1553h0M687,1558h0M657,1605h0M666,1587h0M664,1569h0M658,1536h0M669,1562h0M657,1581h0M693,1570h0M684,1595h0M644,1564h0M626,1550h0M671,1544h0M663,1561h0M666,1558h0M675,1569h0M652,1555h0M647,1532h0M647,1563h0M677,1546h0M674,1562h0M692,1568h0M652,1576h0M665,1585h0M683,1582h0M680,1564h0M661,1564h0M680,1553h0M650,1533h0M668,1545h0M666,1549h0M679,1568h0M674,1549h0M650,1569h0M674,1549h0M679,1574h0M669,1568h0M672,1586h0M672,1598h0M667,1555h0M673,1573h0" stroke="#18b0ff" stroke-width="3.7" stroke-linecap="square" fill="none" opacity="0.80"/>
<path d="M833,1432h0M878,1440h0M890,1512h0M832,1470h0M857,1446h0M835,1517h0M820,1449h0M837,1447h0M845,1481h0M864,1432h0M818,1489h0M821,1472h0M834,1558h0M874,1523h0M873,1491h0M819,1528h0M817,1533h0M819,1500h0M843,1483h0M840,1494h0M865,1415h0M896,1501h0M906,1509h0M891,1448h0M809,1484h0M807,1531h0M886,1458h0M879,1521h0M853,1499h0M840,1493h0M853,1495h0M861,1423h0M854,1429h0M892,1412h0M851,1475h0M860,1454h0M881,1424h0M794,1402h0M851,1495h0M777,1432h0M855,1513h0M811,1474h0M855,1421h0M871,1479h0M866,1417h0M836,1461h0M851,1468h0M832,1480h0M836,1518h0M822,1444h0M823,1469h0M836,1425h0M830,1516h0M847,1505h0M868,1444h0M818,1532h0M831,1477h0M854,1433h0M822,1494h0M871,1472h0M823,1501h0M884,1494h0M874,1518h0M862,1477h0M799,1479h0M827,1519h0M907,1457h0M863,1468h0M897,1475h0M818,1512h0M847,1500h0M839,1485h0M839,1416h0M889,1495h0M842,1437h0M869,1504h0M863,1478h0M815,1422h0M852,1518h0M836,1452h0M922,1452h0M872,1460h0M810,1471h0M838,1464h0M846,1465h0M878,1470h0M892,1474h0M870,1528h0M842,1494h0M856,1478h0M851,1523h0M842,1486h0M809,1493h0M885,1480h0M822,1480h0M857,1498h0M864,1485h0M823,1478h0M866,1437h0M880,1488h0M895,1454h0M859,1481h0M863,1480h0M858,1442h0M846,1511h0M812,1421h0M927,1472h0M786,1505h0M827,1493h0M863,1455h0M830,1485h0M875,1448h0M849,1437h0M794,1456h0M858,1507h0M820,1504h0M814,1508h0M792,1507h0M842,1465h0M863,1400h0M816,1452h0M808,1450h0M878,1459h0M850,1478h0M891,1464h0M850,1439h0M824,1510h0M827,1450h0M855,1510h0M852,1433h0M854,1428h0M821,1501h0M863,1462h0M867,1493h0M877,1464h0M842,1493h0M779,1420h0M870,1479h0M857,1467h0M791,1472h0M838,1465h0M858,1494h0M827,1481h0M864,1456h0M802,1466h0M826,1451h0M832,1451h0M839,1486h0M796,1468h0M899,1453h0M853,1444h0M802,1419h0M785,1462h0M828,1472h0M852,1520h0M864,1471h0M831,1500h0M819,1494h0M798,1487h0M789,1508h0M792,1487h0M807,1477h0M811,1485h0M872,1479h0M835,1425h0M873,1450h0M888,1437h0M817,1524h0M919,1449h0M860,1426h0M817,1461h0M775,1449h0M792,1467h0M827,1441h0M832,1491h0M810,1499h0M856,1515h0M876,1474h0M838,1418h0M806,1477h0M833,1501h0M875,1480h0M823,1440h0M854,1520h0M854,1456h0M824,1550h0M809,1430h0M806,1518h0M795,1505h0M824,1467h0M832,1451h0M823,1523h0M838,1442h0M850,1476h0M873,1475h0M799,1509h0M827,1449h0M827,1493h0M830,1515h0M832,1413h0M806,1462h0M855,1482h0M867,1412h0M815,1491h0M887,1466h0M808,1444h0M838,1507h0M842,1496h0M907,1426h0M832,1520h0M872,1453h0M850,1483h0M806,1487h0M842,1470h0M793,1462h0M844,1464h0M800,1520h0M779,1451h0M790,1475h0M826,1481h0M911,1431h0M826,1500h0M832,1440h0M853,1490h0M786,1470h0M829,1482h0M856,1467h0M855,1459h0M849,1498h0M810,1455h0M804,1491h0M836,1430h0M832,1473h0M857,1487h0M861,1512h0M868,1466h0M828,1483h0M811,1540h0M790,1502h0M838,1525h0M825,1450h0M909,1467h0M854,1508h0M854,1510h0M806,1450h0M847,1482h0M822,1416h0M882,1442h0M819,1499h0M824,1494h0M832,1500h0M831,1484h0M877,1445h0M897,1446h0M814,1522h0M807,1447h0M854,1448h0M911,1447h0M854,1451h0M805,1518h0" stroke="#08c484" stroke-width="3.7" stroke-linecap="square" fill="none" opacity="0.80"/>
<path d="M900,1601h0M907,1598h0M915,1595h0M918,1590h0M899,1612h0M901,1590h0M898,1566h0M903,1590h0M929,1591h0M926,1616h0M885,1581h0M938,1611h0M932,1583h0M914,1588h0M867,1596h0M887,1575h0M931,1608h0M920,1587h0M928,1605h0M917,1578h0M910,1594h0M910,1602h0M903,1589h0M906,1567h0M924,1591h0M893,1576h0M879,1602h0M913,1614h0M905,1586h0M890,1603h0M907,1602h0M902,1600h0M897,1591h0M931,1587h0M884,1575h0M941,1589h0M903,1596h0M899,1580h0M916,1597h0M923,1586h0M898,1598h0M907,1596h0M930,1591h0M899,1616h0M933,1582h0M918,1568h0M869,1591h0M890,1618h0M897,1594h0M915,1613h0M879,1585h0M915,1589h0M880,1595h0M879,1580h0M908,1596h0M914,1587h0M928,1618h0M925,1591h0M892,1578h0M913,1564h0M913,1573h0M921,1595h0M923,1632h0M937,1597h0M901,1591h0M906,1605h0M880,1603h0M905,1596h0M948,1601h0M931,1576h0M948,1590h0M933,1630h0M938,1589h0M927,1582h0M921,1594h0M943,1621h0M941,1613h0M921,1597h0M936,1604h0M931,1592h0M901,1589h0M910,1569h0M941,1600h0M888,1566h0M912,1616h0M913,1578h0M885,1580h0M864,1581h0M930,1587h0M939,1584h0M914,1587h0M945,1591h0M921,1607h0M905,1595h0M893,1599h0M912,1599h0M906,1610h0M905,1597h0M937,1599h0M890,1581h0M903,1596h0M914,1595h0M940,1616h0M891,1593h0M902,1602h0M913,1565h0M914,1598h0M913,1602h0M904,1601h0M892,1600h0" stroke="#10ccb8" stroke-width="3.7" stroke-linecap="square" fill="none" opacity="0.80"/>
<path d="M731,1494h0" stroke="#08c484" stroke-width="4.5" stroke-linecap="square" fill="none"/>
<g fill="none" stroke="#111" stroke-width="4.8" stroke-linecap="round">
<path d="M169.2,1677.7C167.9,1669.7 168.1,1663.2 171.6,1654.5C175.1,1645.8 180.9,1634.7 190.2,1625.2C199.5,1615.7 213.4,1606.1 227.3,1597.3C241.2,1588.5 260.8,1580.8 273.7,1572.6C286.6,1564.4 294.3,1558.2 304.6,1547.9C314.9,1537.6 325.2,1524.2 335.5,1510.8C345.8,1497.4 356.1,1480.9 366.4,1467.5C376.7,1454.1 387.0,1440.7 397.3,1430.4C407.6,1420.1 418.0,1412.4 428.3,1405.7C438.6,1399.0 448.9,1394.3 459.2,1390.2C469.5,1386.1 477.2,1383.2 490.1,1380.9C503.0,1378.6 521.0,1376.0 536.5,1376.3C552.0,1376.6 567.9,1379.2 582.8,1382.5C597.7,1385.8 613.7,1391.5 626.1,1396.4C638.5,1401.3 647.7,1405.6 657.0,1411.8C666.3,1418.0 675.1,1425.8 681.8,1433.5C688.5,1441.2 693.9,1450.5 697.2,1458.2C700.6,1465.9 702.4,1473.2 701.9,1479.9C701.4,1486.6 698.5,1493.5 694.1,1498.4C689.7,1503.3 683.8,1506.6 675.6,1509.2C667.4,1511.8 655.0,1510.6 644.7,1513.9C634.4,1517.2 624.1,1523.1 613.8,1529.3C603.5,1535.5 595.7,1541.7 582.8,1551.0C569.9,1560.3 552.0,1574.2 536.5,1585.0C521.0,1595.8 508.1,1605.6 490.1,1615.9C472.1,1626.2 448.9,1637.0 428.3,1646.8C407.7,1656.6 387.0,1665.8 366.4,1674.6C345.8,1683.4 325.2,1692.2 304.6,1699.4C284.0,1706.6 259.3,1714.6 242.8,1717.9C226.3,1721.2 216.3,1722.1 205.7,1719.5C195.1,1716.9 185.5,1709.5 179.4,1702.5C173.3,1695.5 170.5,1685.7 169.2,1677.7Z"/>
<path d="M570.0,1268.0C572.7,1260.5 577.5,1253.7 583.3,1249.8C589.1,1245.9 596.6,1244.5 604.6,1244.5C612.6,1244.5 623.3,1246.3 631.3,1249.8C639.3,1253.3 647.4,1259.2 652.6,1265.3C657.8,1271.4 662.0,1279.9 662.5,1286.6C663.0,1293.3 659.6,1299.5 655.3,1305.3C651.0,1311.1 644.1,1316.8 636.6,1321.3C629.1,1325.8 618.0,1330.5 610.0,1332.0C602.0,1333.5 594.6,1332.8 588.6,1330.6C582.6,1328.4 577.5,1324.6 574.0,1318.6C570.5,1312.6 568.0,1303.0 567.3,1294.6C566.6,1286.2 567.3,1275.5 570.0,1268.0Z"/>
<path d="M207.0,1527.0C206.8,1520.8 208.1,1513.5 211.0,1508.0C213.9,1502.5 218.8,1497.2 224.5,1494.0C230.2,1490.8 238.2,1489.0 245.0,1489.0C251.8,1489.0 259.7,1490.8 265.5,1494.0C271.3,1497.2 275.9,1502.5 280.0,1508.0C284.1,1513.5 288.3,1520.9 290.0,1527.0C291.7,1533.1 291.6,1539.5 290.0,1544.5C288.4,1549.5 285.0,1553.8 280.5,1557.0C276.0,1560.2 269.4,1562.7 263.0,1564.0C256.6,1565.3 248.6,1566.0 242.0,1565.0C235.4,1564.0 228.5,1561.2 223.5,1558.0C218.5,1554.8 214.8,1550.7 212.0,1545.5C209.2,1540.3 207.2,1533.2 207.0,1527.0Z"/>
<path d="M615.3,1537.1C617.5,1529.3 625.1,1524.0 631.3,1519.8C637.5,1515.6 644.6,1512.9 652.6,1511.8C660.6,1510.7 671.3,1511.2 679.3,1513.2C687.3,1515.2 695.0,1518.0 700.6,1523.8C706.2,1529.6 710.8,1539.3 712.6,1547.8C714.4,1556.2 713.7,1566.1 711.2,1574.5C708.8,1582.9 704.1,1592.4 697.9,1598.4C691.7,1604.4 681.9,1609.1 673.9,1610.4C665.9,1611.7 657.0,1609.5 649.9,1606.4C642.8,1603.3 636.6,1598.5 631.3,1591.8C626.0,1585.1 620.7,1575.6 618.0,1566.5C615.3,1557.4 613.1,1544.9 615.3,1537.1Z"/>
<path d="M761.9,1446.5C761.9,1434.5 764.8,1422.3 769.9,1414.5C775.0,1406.7 783.6,1403.5 792.5,1399.9C801.4,1396.4 811.4,1393.7 823.2,1393.2C835.0,1392.8 849.9,1392.8 863.2,1397.2C876.5,1401.7 892.0,1409.5 903.1,1419.9C914.2,1430.4 922.2,1444.4 929.8,1459.9C937.3,1475.5 943.5,1495.4 948.4,1513.2C953.3,1531.0 957.8,1551.0 959.1,1566.5C960.4,1582.0 959.5,1595.3 956.4,1606.4C953.3,1617.5 947.0,1627.5 940.4,1633.1C933.8,1638.7 925.8,1640.2 916.5,1639.8C907.2,1639.3 895.6,1636.4 884.5,1630.4C873.4,1624.4 860.9,1614.5 849.8,1603.8C838.7,1593.1 828.0,1579.8 817.8,1566.5C807.6,1553.2 796.5,1537.1 788.5,1523.8C780.5,1510.5 774.3,1499.4 769.9,1486.5C765.5,1473.6 761.9,1458.5 761.9,1446.5Z"/>
<path d="M480.0,1739.0C487.8,1735.8 493.6,1733.2 504.7,1730.7C515.8,1728.2 532.4,1725.9 546.3,1723.8C560.2,1721.7 574.0,1720.8 587.9,1718.2C601.8,1715.7 618.0,1711.5 629.5,1708.5C641.0,1705.5 648.0,1703.1 657.2,1700.2C666.4,1697.3 675.7,1693.3 684.9,1691.0C694.1,1688.7 703.4,1687.3 712.6,1686.3C721.8,1685.3 731.0,1684.8 740.3,1685.0C749.5,1685.2 758.9,1685.9 768.1,1687.7C777.4,1689.5 786.6,1691.8 795.8,1696.0C805.0,1700.2 815.2,1705.8 823.5,1712.7C831.8,1719.6 839.2,1727.9 845.7,1737.6C852.2,1747.3 858.4,1759.8 862.3,1770.9C866.2,1782.0 868.5,1792.5 869.2,1804.1C869.9,1815.6 868.6,1828.2 866.5,1840.2C864.4,1852.2 861.2,1863.7 856.8,1876.2C852.4,1888.7 846.6,1901.1 840.1,1915.0C833.6,1928.9 826.3,1945.5 818.0,1959.4C809.7,1973.3 799.9,1987.1 790.2,1998.2C780.5,2009.3 770.8,2018.8 759.7,2025.9C748.6,2033.1 736.2,2038.0 723.7,2041.1C711.2,2044.1 695.5,2044.3 684.9,2044.2C674.3,2044.1 668.0,2041.9 660.0,2040.5C652.0,2039.1 645.9,2038.0 636.6,2035.9C627.3,2033.8 615.0,2030.9 604.2,2027.9C593.4,2025.0 582.7,2021.7 571.9,2018.2C561.1,2014.7 550.4,2011.0 539.6,2006.9C528.8,2002.9 518.1,1998.8 507.3,1993.9C496.5,1989.1 485.2,1983.7 475.0,1977.8C464.8,1971.9 454.8,1965.4 445.9,1958.4C437.0,1951.4 428.4,1943.6 421.7,1935.8C415.0,1928.0 409.7,1919.7 405.5,1911.6C401.3,1903.5 398.6,1895.4 396.7,1887.3C394.8,1879.2 394.3,1871.2 394.2,1863.1C394.1,1855.0 394.4,1847.0 395.8,1838.9C397.2,1830.8 399.1,1822.7 402.3,1814.6C405.5,1806.5 409.8,1798.5 415.2,1790.4C420.6,1782.3 427.5,1772.9 434.6,1766.2C441.7,1759.5 450.4,1754.5 458.0,1750.0C465.6,1745.5 472.2,1742.2 480.0,1739.0Z"/>
<path d="M551,1250.6L573.8,1266.6"/>
<path d="M278,1475.3L262,1490.5"/>
<path d="M771.2,1385.2L792.5,1401.2"/>
<path d="M622,1591.8L582,1629.9"/>
</g>
<text x="179.5" y="1273.3" font-size="58.5" textLength="363.1" lengthAdjust="spacingAndGlyphs" stroke="#141414" stroke-width="0.4" xml:space="preserve">interm. MFB I</text>
<text x="161.5" y="1393.2" font-size="58.5" textLength="186.6" lengthAdjust="spacingAndGlyphs" stroke="#141414" stroke-width="0.4" xml:space="preserve">interm.</text>
<text x="162.0" y="1466.5" font-size="58.5" textLength="195.1" lengthAdjust="spacingAndGlyphs" stroke="#141414" stroke-width="0.4" xml:space="preserve">MFB III</text>
<text x="613.2" y="1373.2" font-size="58.5" textLength="363.9" lengthAdjust="spacingAndGlyphs" stroke="#141414" stroke-width="0.4" xml:space="preserve">early MFB I-II</text>
<text transform="translate(278.0 1662.4) rotate(-29.00)" x="-4.1" y="0" font-size="58.5" textLength="347.7" lengthAdjust="spacingAndGlyphs" stroke="#141414" stroke-width="0.4" xml:space="preserve">late MFB I-III</text>
<text transform="translate(371.0 1744.0) rotate(-15.50)" x="-4.0" y="0" font-size="58.5" textLength="376.5" lengthAdjust="spacingAndGlyphs" stroke="#141414" stroke-width="0.4" xml:space="preserve">interm. MFB II</text>
<text x="530.6" y="1897.8" font-size="59.0" textLength="219.7" lengthAdjust="spacingAndGlyphs" stroke="#141414" stroke-width="0.4" xml:space="preserve">HSC I-V</text>
<circle cx="1023.7" cy="1293.0" r="26" fill="#FA746C"/>
<text x="1065.5" y="1311.6" font-size="55.7" textLength="143.0" lengthAdjust="spacingAndGlyphs" stroke="#141414" stroke-width="0.4" xml:space="preserve">HSC I</text>
<circle cx="1023.7" cy="1351.0" r="26" fill="#F98B00"/>
<text x="1065.5" y="1369.5" font-size="55.7" textLength="157.8" lengthAdjust="spacingAndGlyphs" stroke="#141414" stroke-width="0.4" xml:space="preserve">HSC II</text>
<circle cx="1023.7" cy="1408.9" r="26" fill="#C69A00"/>
<text x="1065.5" y="1427.5" font-size="55.7" textLength="172.7" lengthAdjust="spacingAndGlyphs" stroke="#141414" stroke-width="0.4" xml:space="preserve">HSC III</text>
<circle cx="1023.7" cy="1466.8" r="26" fill="#88AC00"/>
<text x="1065.5" y="1485.4" font-size="55.7" textLength="178.7" lengthAdjust="spacingAndGlyphs" stroke="#141414" stroke-width="0.4" xml:space="preserve">HSC IV</text>
<circle cx="1023.7" cy="1524.8" r="26" fill="#06B800"/>
<text x="1065.5" y="1543.4" font-size="55.7" textLength="163.8" lengthAdjust="spacingAndGlyphs" stroke="#141414" stroke-width="0.4" xml:space="preserve">HSC V</text>
<circle cx="1023.7" cy="1582.8" r="26" fill="#00BF70"/>
<text x="1065.5" y="1601.3" font-size="55.7" textLength="288.9" lengthAdjust="spacingAndGlyphs" stroke="#141414" stroke-width="0.4" xml:space="preserve">early  MFB I</text>
<circle cx="1023.7" cy="1640.7" r="26" fill="#00C2AD"/>
<text x="1065.5" y="1659.3" font-size="55.7" textLength="303.8" lengthAdjust="spacingAndGlyphs" stroke="#141414" stroke-width="0.4" xml:space="preserve">early  MFB II</text>
<circle cx="1023.7" cy="1698.7" r="26" fill="#00BCDC"/>
<text x="1065.5" y="1717.2" font-size="55.7" textLength="321.6" lengthAdjust="spacingAndGlyphs" stroke="#141414" stroke-width="0.4" xml:space="preserve">interm. MFB I</text>
<circle cx="1023.7" cy="1756.6" r="26" fill="#00AEFE"/>
<text x="1065.5" y="1775.2" font-size="55.7" textLength="336.5" lengthAdjust="spacingAndGlyphs" stroke="#141414" stroke-width="0.4" xml:space="preserve">interm. MFB II</text>
<circle cx="1023.7" cy="1814.6" r="26" fill="#8A93FF"/>
<text x="1065.5" y="1833.2" font-size="55.7" textLength="351.4" lengthAdjust="spacingAndGlyphs" stroke="#141414" stroke-width="0.4" xml:space="preserve">interm. MFB III</text>
<circle cx="1023.7" cy="1872.5" r="26" fill="#DF70FF"/>
<text x="1065.5" y="1891.1" font-size="55.7" textLength="259.1" lengthAdjust="spacingAndGlyphs" stroke="#141414" stroke-width="0.4" xml:space="preserve">late  MFB I</text>
<circle cx="1023.7" cy="1930.5" r="26" fill="#FF5EDC"/>
<text x="1065.5" y="1949.0" font-size="55.7" textLength="274.0" lengthAdjust="spacingAndGlyphs" stroke="#141414" stroke-width="0.4" xml:space="preserve">late  MFB II</text>
<circle cx="1023.7" cy="1988.4" r="26" fill="#FF60A8"/>
<text x="1065.5" y="2007.0" font-size="55.7" textLength="288.9" lengthAdjust="spacingAndGlyphs" stroke="#141414" stroke-width="0.4" xml:space="preserve">late  MFB III</text>
<!-- part_d -->
<text transform="translate(1314.1 113.6) scale(0.931 1)" font-size="115.1" fill="#000" stroke="#fff" stroke-width="1.2" stroke-linejoin="round">D</text>
<rect x="1461.0" y="95.2" width="208.0" height="128.9" fill="#fde9e9"/>
<rect x="1669.0" y="95.2" width="82.0" height="128.9" fill="#e4fce6"/>
<rect x="1751.0" y="95.2" width="125.0" height="128.9" fill="#e6f2fd"/>
<rect x="1876.0" y="95.2" width="128.0" height="128.9" fill="#fde8fb"/>
<path d="M1482.5,146.4V227.1M1523.9,127.2V227.1M1566.3,191.1V227.1M1606.7,150.4V227.1M1648.1,160.0V227.1M1689.5,116.0V225.8M1730.9,148.8V225.8M1772.3,96.0V227.1M1813.7,97.9V227.1M1855.1,100.8V166.4M1896.5,109.6V227.1M1937.9,115.2V227.1M1979.3,110.4V227.1" stroke="#5b4a55" stroke-width="4.6" stroke-opacity="0.24" fill="none"/>
<path d="M1690.5,116.0C1690.5,121.2 1690.5,140.4 1690.9,147.2C1691.4,154.0 1692.9,153.0 1693.0,156.8C1693.2,160.5 1691.7,163.7 1691.7,169.6C1691.8,175.4 1692.4,185.8 1693.3,191.9C1694.2,198.1 1696.8,202.3 1697.2,206.3C1697.5,210.3 1695.0,213.5 1695.6,215.9C1696.2,218.3 1698.6,219.1 1700.7,220.7C1702.8,222.4 1707.1,225.0 1708.4,225.8L1670.6,225.8C1671.9,225.0 1676.2,222.4 1678.3,220.7C1680.4,219.1 1682.8,218.3 1683.4,215.9C1684.0,213.5 1681.5,210.3 1681.8,206.3C1682.2,202.3 1684.8,198.1 1685.7,191.9C1686.6,185.8 1687.2,175.4 1687.3,169.6C1687.3,163.7 1685.8,160.5 1686.0,156.8C1686.1,153.0 1687.6,154.0 1688.1,147.2C1688.5,140.4 1688.5,121.2 1688.5,116.0Z" fill="#00BF70" stroke="#00BF70" stroke-width="1.2" stroke-linejoin="round"/>
<path d="M1731.9,148.8C1732.1,152.5 1732.6,165.6 1733.5,171.2C1734.4,176.7 1736.0,178.6 1737.3,182.3C1738.6,186.1 1741.2,190.3 1741.5,193.5C1741.7,196.7 1739.7,198.9 1738.6,201.5C1737.4,204.1 1734.2,206.5 1734.4,209.2C1734.6,211.9 1737.1,214.8 1739.7,217.5C1742.3,220.3 1748.1,224.5 1749.8,225.8L1712.0,225.8C1713.7,224.5 1719.5,220.3 1722.1,217.5C1724.7,214.8 1727.2,211.9 1727.4,209.2C1727.6,206.5 1724.4,204.1 1723.2,201.5C1722.1,198.9 1720.1,196.7 1720.3,193.5C1720.6,190.3 1723.2,186.1 1724.5,182.3C1725.8,178.6 1727.4,176.7 1728.3,171.2C1729.2,165.6 1729.7,152.5 1729.9,148.8Z" fill="#00C2AD" stroke="#00C2AD" stroke-width="1.2" stroke-linejoin="round"/>
<path d="M1773.9,96.0C1774.1,97.9 1773.3,103.7 1774.9,107.2C1776.5,110.7 1780.8,114.0 1783.5,116.8C1786.2,119.6 1790.9,121.6 1791.2,124.0C1791.4,126.4 1787.3,128.6 1785.1,131.2C1782.9,133.7 1779.5,135.7 1778.1,139.2C1776.6,142.6 1776.9,148.0 1776.5,152.0C1776.0,156.0 1776.0,160.2 1775.5,163.2C1775.0,166.1 1773.9,168.5 1773.6,169.6L1771.0,169.6C1770.7,168.5 1769.6,166.1 1769.1,163.2C1768.6,160.2 1768.6,156.0 1768.1,152.0C1767.7,148.0 1768.0,142.6 1766.5,139.2C1765.1,135.7 1761.7,133.7 1759.5,131.2C1757.3,128.6 1753.2,126.4 1753.4,124.0C1753.7,121.6 1758.4,119.6 1761.1,116.8C1763.8,114.0 1768.1,110.7 1769.7,107.2C1771.3,103.7 1770.5,97.9 1770.7,96.0Z" fill="#00BCDC" stroke="#00BCDC" stroke-width="1.2" stroke-linejoin="round"/>
<path d="M1818.5,97.9C1819.8,98.9 1824.3,101.4 1826.5,104.0C1828.7,106.6 1830.5,110.4 1831.6,113.6C1832.7,116.8 1833.1,119.2 1832.9,123.2C1832.7,127.2 1831.3,133.6 1830.5,137.6C1829.6,141.6 1827.9,144.2 1827.8,147.2C1827.6,150.1 1830.2,152.5 1829.7,155.2C1829.2,157.8 1827.3,159.7 1824.9,163.2C1822.4,166.6 1816.6,173.8 1815.0,175.9L1812.4,175.9C1810.8,173.8 1805.0,166.6 1802.5,163.2C1800.1,159.7 1798.2,157.8 1797.7,155.2C1797.2,152.5 1799.8,150.1 1799.6,147.2C1799.5,144.2 1797.8,141.6 1796.9,137.6C1796.1,133.6 1794.7,127.2 1794.5,123.2C1794.3,119.2 1794.7,116.8 1795.8,113.6C1796.9,110.4 1798.7,106.6 1800.9,104.0C1803.1,101.4 1807.6,98.9 1808.9,97.9Z" fill="#00AEFE" stroke="#00AEFE" stroke-width="1.2" stroke-linejoin="round"/>
<path d="M1856.4,100.8C1856.7,102.4 1856.6,107.5 1858.3,110.4C1860.0,113.3 1863.6,115.7 1866.3,118.4C1869.0,121.0 1874.3,123.7 1874.3,126.4C1874.3,129.0 1868.8,131.4 1866.3,134.4C1863.8,137.3 1860.8,141.0 1859.1,144.0C1857.4,146.9 1856.8,150.6 1856.4,152.0L1853.8,152.0C1853.4,150.6 1852.8,146.9 1851.1,144.0C1849.4,141.0 1846.4,137.3 1843.9,134.4C1841.4,131.4 1835.9,129.0 1835.9,126.4C1835.9,123.7 1841.2,121.0 1843.9,118.4C1846.6,115.7 1850.2,113.3 1851.9,110.4C1853.6,107.5 1853.5,102.4 1853.8,100.8Z" fill="#8A93FF" stroke="#8A93FF" stroke-width="1.2" stroke-linejoin="round"/>
<path d="M1897.8,109.6C1897.9,111.3 1897.4,116.1 1898.7,120.0C1900.1,123.8 1903.8,128.8 1906.1,132.8C1908.4,136.8 1911.0,140.2 1912.5,144.0C1914.0,147.7 1915.2,150.9 1915.1,155.2C1914.9,159.4 1913.5,164.8 1911.7,169.6C1909.9,174.4 1906.8,179.4 1904.5,183.9C1902.2,188.5 1898.9,194.6 1897.8,196.7L1895.2,196.7C1894.1,194.6 1890.8,188.5 1888.5,183.9C1886.2,179.4 1883.1,174.4 1881.3,169.6C1879.5,164.8 1878.1,159.4 1877.9,155.2C1877.8,150.9 1879.0,147.7 1880.5,144.0C1882.0,140.2 1884.6,136.8 1886.9,132.8C1889.2,128.8 1892.9,123.8 1894.3,120.0C1895.6,116.1 1895.1,111.3 1895.2,109.6Z" fill="#DF70FF" stroke="#DF70FF" stroke-width="1.2" stroke-linejoin="round"/>
<path d="M1939.2,115.2C1939.5,116.8 1939.4,121.6 1941.1,124.8C1942.8,128.0 1946.6,130.6 1949.1,134.4C1951.6,138.1 1955.3,142.9 1956.1,147.2C1956.9,151.4 1955.6,155.2 1953.9,160.0C1952.2,164.8 1948.3,171.2 1945.9,175.9C1943.5,180.7 1940.6,186.6 1939.5,188.7L1936.3,188.7C1935.2,186.6 1932.3,180.7 1929.9,175.9C1927.5,171.2 1923.6,164.8 1921.9,160.0C1920.2,155.2 1918.9,151.4 1919.7,147.2C1920.5,142.9 1924.2,138.1 1926.7,134.4C1929.2,130.6 1933.0,128.0 1934.7,124.8C1936.4,121.6 1936.3,116.8 1936.6,115.2Z" fill="#FF5EDC" stroke="#FF5EDC" stroke-width="1.2" stroke-linejoin="round"/>
<path d="M1980.6,110.4C1981.2,111.7 1982.1,115.4 1984.1,118.4C1986.1,121.3 1990.9,123.7 1992.7,128.0C1994.6,132.2 1994.7,138.6 1995.3,144.0C1995.9,149.3 1996.1,154.6 1996.6,160.0C1997.0,165.3 1998.6,171.2 1997.9,175.9C1997.1,180.7 1994.9,184.2 1992.1,188.7C1989.3,193.3 1982.8,200.7 1980.9,203.1L1977.7,203.1C1975.8,200.7 1969.3,193.3 1966.5,188.7C1963.7,184.2 1961.5,180.7 1960.7,175.9C1960.0,171.2 1961.6,165.3 1962.0,160.0C1962.5,154.6 1962.7,149.3 1963.3,144.0C1963.9,138.6 1964.0,132.2 1965.9,128.0C1967.7,123.7 1972.5,121.3 1974.5,118.4C1976.5,115.4 1977.4,111.7 1978.0,110.4Z" fill="#FF60A8" stroke="#FF60A8" stroke-width="1.2" stroke-linejoin="round"/>
<path d="M1461,94.2V227.1H2004" fill="none" stroke="#151515" stroke-width="5.8" stroke-linejoin="round"/>
<text x="1637.7" y="82.7" font-size="63.0" textLength="165.3" lengthAdjust="spacingAndGlyphs" font-style="italic" stroke="#141414" stroke-width="0.4" xml:space="preserve">Acta2</text>
<rect x="1461.0" y="297.2" width="208.0" height="128.9" fill="#fde9e9"/>
<rect x="1669.0" y="297.2" width="82.0" height="128.9" fill="#e4fce6"/>
<rect x="1751.0" y="297.2" width="125.0" height="128.9" fill="#e6f2fd"/>
<rect x="1876.0" y="297.2" width="128.0" height="128.9" fill="#fde8fb"/>
<path d="M1482.5,318.8V427.8M1523.9,310.8V427.8M1566.3,312.4V427.8M1606.7,304.4V427.8M1648.1,297.5V429.1M1689.5,310.8V427.8M1730.9,298.0V429.1M1772.3,387.5V429.1M1813.7,333.2V429.1M1855.1,397.1V429.1M1896.5,341.2V429.1M1937.9,373.2V429.1M1979.3,343.6V427.8" stroke="#5b4a55" stroke-width="4.6" stroke-opacity="0.24" fill="none"/>
<path d="M1483.8,334.8C1483.9,343.3 1484.2,376.1 1484.7,385.9C1485.3,393.9 1486.8,390.5 1487.0,393.9C1487.2,397.4 1486.0,403.3 1486.0,406.7C1486.1,410.2 1485.8,412.1 1487.3,414.7C1488.8,417.4 1493.1,420.5 1495.3,422.7C1497.5,424.9 1499.6,427.0 1500.4,427.8L1464.6,427.8C1465.4,427.0 1467.5,424.9 1469.7,422.7C1471.9,420.5 1476.2,417.4 1477.7,414.7C1479.2,412.1 1478.9,410.2 1479.0,406.7C1479.0,403.3 1477.8,397.4 1478.0,393.9C1478.2,390.5 1479.7,393.9 1480.3,385.9C1480.8,376.1 1481.1,343.3 1481.2,334.8Z" fill="#FA746C" stroke="#FA746C" stroke-width="1.2" stroke-linejoin="round"/>
<path d="M1525.2,310.8C1526.0,312.7 1528.4,317.4 1530.3,322.0C1532.2,326.5 1535.5,331.3 1536.7,338.0C1537.9,344.6 1537.4,352.6 1537.7,362.0C1537.9,371.3 1538.5,386.5 1538.3,393.9C1538.1,401.4 1537.9,403.3 1536.7,406.7C1535.5,410.2 1531.3,412.3 1531.3,414.7C1531.3,417.1 1534.9,418.9 1536.7,421.1C1538.5,423.3 1541.0,426.7 1541.8,427.8L1506.0,427.8C1506.8,426.7 1509.3,423.3 1511.1,421.1C1512.9,418.9 1516.5,417.1 1516.5,414.7C1516.5,412.3 1512.3,410.2 1511.1,406.7C1509.9,403.3 1509.7,401.4 1509.5,393.9C1509.3,386.5 1509.9,371.3 1510.1,362.0C1510.4,352.6 1509.9,344.6 1511.1,338.0C1512.3,331.3 1515.6,326.5 1517.5,322.0C1519.4,317.4 1521.8,312.7 1522.6,310.8Z" fill="#F98B00" stroke="#F98B00" stroke-width="1.2" stroke-linejoin="round"/>
<path d="M1567.6,312.4C1568.2,314.8 1569.6,321.2 1571.1,326.8C1572.6,332.4 1575.5,337.4 1576.7,346.0C1577.9,354.5 1578.3,368.6 1578.5,377.9C1578.6,387.3 1578.4,396.1 1577.5,401.9C1576.6,407.8 1573.0,410.2 1573.0,413.1C1573.0,416.1 1575.6,417.1 1577.5,419.5C1579.4,422.0 1583.1,426.5 1584.2,427.8L1548.4,427.8C1549.5,426.5 1553.2,422.0 1555.1,419.5C1557.0,417.1 1559.6,416.1 1559.6,413.1C1559.6,410.2 1556.0,407.8 1555.1,401.9C1554.2,396.1 1554.0,387.3 1554.1,377.9C1554.3,368.6 1554.7,354.5 1555.9,346.0C1557.1,337.4 1560.0,332.4 1561.5,326.8C1563.0,321.2 1564.4,314.8 1565.0,312.4Z" fill="#C69A00" stroke="#C69A00" stroke-width="1.2" stroke-linejoin="round"/>
<path d="M1608.0,304.4C1608.4,308.7 1609.7,321.7 1610.7,330.0C1611.7,338.2 1613.0,346.0 1613.9,354.0C1614.8,362.0 1615.9,370.8 1616.3,377.9C1616.7,385.1 1616.8,391.8 1616.3,397.1C1615.8,402.5 1613.1,406.5 1613.4,409.9C1613.7,413.4 1615.9,414.9 1617.9,417.9C1619.9,420.9 1624.0,426.2 1625.3,427.8L1588.1,427.8C1589.4,426.2 1593.5,420.9 1595.5,417.9C1597.5,414.9 1599.7,413.4 1600.0,409.9C1600.3,406.5 1597.6,402.5 1597.1,397.1C1596.6,391.8 1596.7,385.1 1597.1,377.9C1597.5,370.8 1598.6,362.0 1599.5,354.0C1600.4,346.0 1601.7,338.2 1602.7,330.0C1603.7,321.7 1605.0,308.7 1605.4,304.4Z" fill="#88AC00" stroke="#88AC00" stroke-width="1.2" stroke-linejoin="round"/>
<path d="M1654.5,297.5C1655.7,298.0 1659.7,297.6 1661.7,300.4C1663.7,303.1 1666.1,310.1 1666.7,314.0C1667.2,317.8 1666.2,319.6 1665.1,323.6C1663.9,327.6 1661.2,332.9 1659.6,338.0C1658.0,343.0 1656.7,348.6 1655.5,354.0C1654.2,359.3 1653.3,364.9 1652.3,370.0C1651.2,375.0 1649.6,381.9 1649.1,384.3L1647.1,384.3C1646.6,381.9 1645.0,375.0 1643.9,370.0C1642.9,364.9 1642.0,359.3 1640.7,354.0C1639.5,348.6 1638.2,343.0 1636.6,338.0C1635.0,332.9 1632.3,327.6 1631.1,323.6C1630.0,319.6 1629.0,317.8 1629.5,314.0C1630.1,310.1 1632.5,303.1 1634.5,300.4C1636.5,297.6 1640.5,298.0 1641.7,297.5Z" fill="#06B800" stroke="#06B800" stroke-width="1.2" stroke-linejoin="round"/>
<path d="M1690.8,310.8C1691.8,314.0 1694.9,322.8 1696.7,330.0C1698.5,337.2 1700.0,346.5 1701.7,354.0C1703.3,361.4 1705.6,369.4 1706.8,374.8C1707.9,380.1 1708.6,382.5 1708.7,385.9C1708.8,389.4 1709.2,391.5 1707.4,395.5C1705.6,399.5 1700.1,406.2 1697.8,409.9C1695.5,413.7 1694.5,414.9 1693.7,417.9C1692.9,420.9 1693.1,426.2 1693.0,427.8L1686.0,427.8C1685.9,426.2 1686.1,420.9 1685.3,417.9C1684.5,414.9 1683.5,413.7 1681.2,409.9C1678.9,406.2 1673.4,399.5 1671.6,395.5C1669.8,391.5 1670.2,389.4 1670.3,385.9C1670.4,382.5 1671.1,380.1 1672.2,374.8C1673.4,369.4 1675.7,361.4 1677.3,354.0C1679.0,346.5 1680.5,337.2 1682.3,330.0C1684.1,322.8 1687.2,314.0 1688.2,310.8Z" fill="#00BF70" stroke="#00BF70" stroke-width="1.2" stroke-linejoin="round"/>
<path d="M1732.2,298.0C1732.6,301.2 1733.2,310.5 1734.9,317.2C1736.6,323.8 1740.2,332.4 1742.1,338.0C1744.0,343.6 1745.0,346.8 1746.3,350.8C1747.5,354.8 1749.8,357.4 1749.5,362.0C1749.1,366.5 1746.4,373.2 1744.3,377.9C1742.3,382.7 1739.3,386.7 1737.3,390.7C1735.3,394.7 1733.0,400.1 1732.2,401.9L1729.6,401.9C1728.8,400.1 1726.5,394.7 1724.5,390.7C1722.5,386.7 1719.5,382.7 1717.5,377.9C1715.4,373.2 1712.7,366.5 1712.3,362.0C1712.0,357.4 1714.3,354.8 1715.5,350.8C1716.8,346.8 1717.8,343.6 1719.7,338.0C1721.6,332.4 1725.2,323.8 1726.9,317.2C1728.6,310.5 1729.2,301.2 1729.6,298.0Z" fill="#00C2AD" stroke="#00C2AD" stroke-width="1.2" stroke-linejoin="round"/>
<path d="M1980.3,393.9C1980.4,398.5 1980.0,415.9 1981.2,421.1C1982.4,425.1 1985.1,424.0 1987.3,425.1C1989.5,426.2 1993.3,427.4 1994.5,427.8L1964.1,427.8C1965.3,427.4 1969.1,426.2 1971.3,425.1C1973.5,424.0 1976.2,425.1 1977.4,421.1C1978.6,415.9 1978.2,398.5 1978.3,393.9Z" fill="#FF60A8" stroke="#FF60A8" stroke-width="1.2" stroke-linejoin="round"/>
<path d="M1461,296.2V429.1H2004" fill="none" stroke="#151515" stroke-width="5.8" stroke-linejoin="round"/>
<text x="1649.9" y="284.7" font-size="63.0" textLength="129.5" lengthAdjust="spacingAndGlyphs" font-style="italic" stroke="#141414" stroke-width="0.4" xml:space="preserve">Ccl2</text>
<rect x="1461.0" y="499.2" width="208.0" height="128.9" fill="#fde9e9"/>
<rect x="1669.0" y="499.2" width="82.0" height="128.9" fill="#e4fce6"/>
<rect x="1751.0" y="499.2" width="125.0" height="128.9" fill="#e6f2fd"/>
<rect x="1876.0" y="499.2" width="128.0" height="128.9" fill="#fde8fb"/>
<path d="M1482.5,562.4V631.1M1523.9,556.0V631.1M1566.3,540.0V629.8M1606.7,552.8V631.1M1648.1,544.0V629.8M1689.5,520.0V629.8M1730.9,499.2V631.1M1772.3,594.3V631.1M1813.7,594.3V631.1M1855.1,616.7V631.1M1896.5,578.4V631.1M1937.9,588.7V631.1M1979.3,553.6V631.1" stroke="#5b4a55" stroke-width="4.6" stroke-opacity="0.24" fill="none"/>
<path d="M1567.9,560.8C1568.1,564.0 1568.8,572.8 1569.2,579.9C1569.6,587.1 1570.2,598.1 1570.1,603.9C1570.1,609.8 1568.2,612.2 1568.9,615.1C1569.6,618.1 1571.7,619.1 1574.3,621.5C1576.9,624.0 1582.6,628.5 1584.2,629.8L1548.4,629.8C1550.0,628.5 1555.7,624.0 1558.3,621.5C1560.9,619.1 1563.0,618.1 1563.7,615.1C1564.4,612.2 1562.5,609.8 1562.5,603.9C1562.4,598.1 1563.0,587.1 1563.4,579.9C1563.8,572.8 1564.5,564.0 1564.7,560.8Z" fill="#C69A00" stroke="#C69A00" stroke-width="1.2" stroke-linejoin="round"/>
<path d="M1651.0,544.0C1651.5,546.0 1652.8,551.3 1653.9,556.0C1654.9,560.6 1656.4,567.4 1657.1,572.0C1657.7,576.5 1657.8,579.1 1657.7,583.1C1657.6,587.1 1656.8,591.7 1656.4,595.9C1656.0,600.2 1655.0,605.5 1655.5,608.7C1655.9,611.9 1657.9,612.7 1659.3,615.1C1660.7,617.5 1662.9,620.7 1664.1,623.1C1665.3,625.6 1666.2,628.7 1666.7,629.8L1629.5,629.8C1630.0,628.7 1630.9,625.6 1632.1,623.1C1633.3,620.7 1635.5,617.5 1636.9,615.1C1638.3,612.7 1640.3,611.9 1640.7,608.7C1641.2,605.5 1640.2,600.2 1639.8,595.9C1639.4,591.7 1638.6,587.1 1638.5,583.1C1638.4,579.1 1638.5,576.5 1639.1,572.0C1639.8,567.4 1641.3,560.6 1642.3,556.0C1643.4,551.3 1644.7,546.0 1645.2,544.0Z" fill="#06B800" stroke="#06B800" stroke-width="1.2" stroke-linejoin="round"/>
<path d="M1690.8,520.0C1691.0,524.6 1691.8,539.3 1692.4,548.0C1693.0,556.6 1693.2,565.3 1694.3,572.0C1695.4,578.6 1697.3,583.4 1699.1,587.9C1700.9,592.5 1703.3,595.9 1704.9,599.1C1706.5,602.3 1708.3,605.0 1708.7,607.1C1709.1,609.3 1708.0,610.3 1707.1,611.9C1706.2,613.5 1703.6,615.1 1703.3,616.7C1702.9,618.3 1704.4,619.3 1704.9,621.5C1705.3,623.7 1705.7,628.5 1705.8,629.8L1673.2,629.8C1673.3,628.5 1673.7,623.7 1674.1,621.5C1674.6,619.3 1676.1,618.3 1675.7,616.7C1675.4,615.1 1672.8,613.5 1671.9,611.9C1671.0,610.3 1669.9,609.3 1670.3,607.1C1670.7,605.0 1672.5,602.3 1674.1,599.1C1675.7,595.9 1678.1,592.5 1679.9,587.9C1681.7,583.4 1683.6,578.6 1684.7,572.0C1685.8,565.3 1686.0,556.6 1686.6,548.0C1687.2,539.3 1688.0,524.6 1688.2,520.0Z" fill="#00BF70" stroke="#00BF70" stroke-width="1.2" stroke-linejoin="round"/>
<path d="M1733.1,499.2C1734.0,502.0 1736.5,510.5 1738.3,516.0C1740.0,521.4 1741.7,525.8 1743.7,532.0C1745.7,538.1 1749.6,546.1 1750.1,552.8C1750.6,559.4 1748.8,564.8 1746.9,572.0C1745.0,579.1 1741.3,589.5 1738.9,595.9C1736.4,602.3 1733.3,607.9 1732.2,610.3L1729.6,610.3C1728.5,607.9 1725.4,602.3 1722.9,595.9C1720.5,589.5 1716.8,579.1 1714.9,572.0C1713.0,564.8 1711.2,559.4 1711.7,552.8C1712.2,546.1 1716.1,538.1 1718.1,532.0C1720.1,525.8 1721.8,521.4 1723.5,516.0C1725.3,510.5 1727.8,502.0 1728.7,499.2Z" fill="#00C2AD" stroke="#00C2AD" stroke-width="1.2" stroke-linejoin="round"/>
<path d="M1461,498.2V631.1H2004" fill="none" stroke="#151515" stroke-width="5.8" stroke-linejoin="round"/>
<text x="1638.0" y="486.7" font-size="63.0" textLength="159.9" lengthAdjust="spacingAndGlyphs" font-style="italic" stroke="#141414" stroke-width="0.4" xml:space="preserve">Cxcl1</text>
<rect x="1461.0" y="701.1" width="208.0" height="128.9" fill="#fde9e9"/>
<rect x="1669.0" y="701.1" width="82.0" height="128.9" fill="#e4fce6"/>
<rect x="1751.0" y="701.1" width="125.0" height="128.9" fill="#e6f2fd"/>
<rect x="1876.0" y="701.1" width="128.0" height="128.9" fill="#fde8fb"/>
<path d="M1482.5,701.4V773.4M1523.9,703.0V767.0M1566.3,705.4V770.2M1606.7,702.2V754.2M1648.1,713.4V782.5M1689.5,729.4V832.8M1730.9,728.6V832.8M1772.3,717.4V832.8M1813.7,727.8V833.0M1855.1,743.0V833.0M1896.5,729.4V803.7M1937.9,743.8V832.8M1979.3,743.0V832.8" stroke="#5b4a55" stroke-width="4.6" stroke-opacity="0.24" fill="none"/>
<path d="M1483.8,701.4C1484.6,702.5 1486.0,704.7 1488.9,707.8C1491.8,710.9 1500.8,715.8 1501.1,719.8C1501.3,723.8 1493.2,728.2 1490.5,731.8C1487.8,735.4 1485.7,739.8 1484.7,741.4L1480.3,741.4C1479.3,739.8 1477.2,735.4 1474.5,731.8C1471.8,728.2 1463.7,723.8 1463.9,719.8C1464.2,715.8 1473.2,710.9 1476.1,707.8C1479.0,704.7 1480.4,702.5 1481.2,701.4Z" fill="#FA746C" stroke="#FA746C" stroke-width="1.2" stroke-linejoin="round"/>
<path d="M1525.2,703.0C1525.8,704.6 1526.0,708.9 1528.7,712.6C1531.4,716.3 1541.2,721.4 1541.5,725.4C1541.8,729.4 1532.9,733.4 1530.3,736.6C1527.7,739.8 1526.6,743.2 1525.8,744.6L1522.0,744.6C1521.2,743.2 1520.1,739.8 1517.5,736.6C1514.9,733.4 1506.0,729.4 1506.3,725.4C1506.6,721.4 1516.4,716.3 1519.1,712.6C1521.8,708.9 1522.0,704.6 1522.6,703.0Z" fill="#F98B00" stroke="#F98B00" stroke-width="1.2" stroke-linejoin="round"/>
<path d="M1567.6,705.4C1568.2,706.9 1568.4,711.0 1571.1,714.2C1573.8,717.4 1583.6,721.1 1583.9,724.6C1584.2,728.0 1575.3,731.9 1572.7,735.0C1570.1,738.0 1569.0,741.6 1568.2,743.0L1564.4,743.0C1563.6,741.6 1562.5,738.0 1559.9,735.0C1557.3,731.9 1548.4,728.0 1548.7,724.6C1549.0,721.1 1558.8,717.4 1561.5,714.2C1564.2,711.0 1564.4,706.9 1565.0,705.4Z" fill="#C69A00" stroke="#C69A00" stroke-width="1.2" stroke-linejoin="round"/>
<path d="M1608.0,702.2C1608.8,703.7 1610.4,707.4 1613.1,711.0C1615.8,714.6 1623.8,719.8 1624.3,723.8C1624.8,727.8 1618.9,731.0 1616.3,735.0C1613.7,739.0 1610.2,745.6 1608.9,747.8L1604.5,747.8C1603.2,745.6 1599.7,739.0 1597.1,735.0C1594.5,731.0 1588.6,727.8 1589.1,723.8C1589.6,719.8 1597.6,714.6 1600.3,711.0C1603.0,707.4 1604.6,703.7 1605.4,702.2Z" fill="#88AC00" stroke="#88AC00" stroke-width="1.2" stroke-linejoin="round"/>
<path d="M1652.6,713.4C1653.7,714.3 1656.9,715.9 1659.3,719.0C1661.6,722.0 1666.0,727.8 1666.7,731.8C1667.3,735.8 1664.7,738.4 1663.5,743.0C1662.2,747.5 1660.6,754.2 1659.3,759.0C1658.0,763.8 1656.6,768.2 1655.5,771.8C1654.3,775.4 1653.2,778.8 1652.3,780.6C1651.3,782.3 1650.1,782.1 1649.7,782.5L1646.5,782.5C1646.1,782.1 1644.9,782.3 1643.9,780.6C1643.0,778.8 1641.9,775.4 1640.7,771.8C1639.6,768.2 1638.2,763.8 1636.9,759.0C1635.6,754.2 1634.0,747.5 1632.7,743.0C1631.5,738.4 1628.9,735.8 1629.5,731.8C1630.2,727.8 1634.6,722.0 1636.9,719.0C1639.3,715.9 1642.5,714.3 1643.6,713.4Z" fill="#06B800" stroke="#06B800" stroke-width="1.2" stroke-linejoin="round"/>
<path d="M1690.8,729.4C1692.2,731.1 1696.1,735.1 1699.1,739.8C1702.1,744.4 1707.7,752.3 1708.7,757.4C1709.6,762.4 1706.2,765.9 1704.9,770.2C1703.5,774.4 1702.0,778.2 1700.7,782.9C1699.4,787.7 1698.0,793.6 1696.9,798.9C1695.7,804.3 1694.4,809.3 1693.7,814.9C1693.0,820.6 1692.9,829.9 1692.7,832.8L1686.3,832.8C1686.1,829.9 1686.0,820.6 1685.3,814.9C1684.6,809.3 1683.3,804.3 1682.1,798.9C1681.0,793.6 1679.6,787.7 1678.3,782.9C1677.0,778.2 1675.5,774.4 1674.1,770.2C1672.8,765.9 1669.4,762.4 1670.3,757.4C1671.3,752.3 1676.9,744.4 1679.9,739.8C1682.9,735.1 1686.8,731.1 1688.2,729.4Z" fill="#00BF70" stroke="#00BF70" stroke-width="1.2" stroke-linejoin="round"/>
<path d="M1735.7,728.6C1737.0,729.6 1741.4,732.3 1743.7,735.0C1746.0,737.6 1749.5,741.4 1749.5,744.6C1749.5,747.8 1746.0,750.4 1743.7,754.2C1741.4,757.9 1737.5,762.2 1735.7,767.0C1733.9,771.8 1733.4,772.0 1732.8,782.9C1732.3,793.9 1732.4,824.5 1732.3,832.8L1729.5,832.8C1729.4,824.5 1729.5,793.9 1729.0,782.9C1728.4,772.0 1727.9,771.8 1726.1,767.0C1724.3,762.2 1720.4,757.9 1718.1,754.2C1715.8,750.4 1712.3,747.8 1712.3,744.6C1712.3,741.4 1715.8,737.6 1718.1,735.0C1720.4,732.3 1724.8,729.6 1726.1,728.6Z" fill="#00C2AD" stroke="#00C2AD" stroke-width="1.2" stroke-linejoin="round"/>
<path d="M1773.7,717.4C1774.1,720.8 1774.5,732.0 1776.1,738.2C1777.8,744.3 1781.0,748.8 1783.5,754.2C1785.9,759.5 1790.9,764.8 1790.9,770.2C1790.9,775.5 1786.3,780.3 1783.5,786.1C1780.7,792.0 1775.6,800.5 1773.9,805.3C1772.2,810.1 1773.2,812.5 1773.6,814.9C1774.0,817.3 1775.9,816.7 1776.5,819.7C1777.0,822.7 1776.7,830.7 1776.8,832.8L1767.8,832.8C1767.9,830.7 1767.6,822.7 1768.1,819.7C1768.7,816.7 1770.6,817.3 1771.0,814.9C1771.4,812.5 1772.4,810.1 1770.7,805.3C1769.0,800.5 1763.9,792.0 1761.1,786.1C1758.3,780.3 1753.7,775.5 1753.7,770.2C1753.7,764.8 1758.7,759.5 1761.1,754.2C1763.6,748.8 1766.8,744.3 1768.5,738.2C1770.1,732.0 1770.5,720.8 1770.9,717.4Z" fill="#00BCDC" stroke="#00BCDC" stroke-width="1.2" stroke-linejoin="round"/>
<path d="M1815.0,727.8C1815.3,729.2 1815.0,733.2 1816.9,736.6C1818.8,739.9 1823.9,744.0 1826.5,747.8C1829.1,751.5 1832.5,755.2 1832.3,759.0C1832.0,762.7 1827.6,765.6 1824.9,770.2C1822.2,774.7 1817.4,783.5 1815.9,786.1L1811.5,786.1C1810.0,783.5 1805.2,774.7 1802.5,770.2C1799.8,765.6 1795.4,762.7 1795.1,759.0C1794.9,755.2 1798.3,751.5 1800.9,747.8C1803.5,744.0 1808.6,739.9 1810.5,736.6C1812.4,733.2 1812.1,729.2 1812.4,727.8Z" fill="#00AEFE" stroke="#00AEFE" stroke-width="1.2" stroke-linejoin="round"/>
<path d="M1857.3,743.0C1858.6,744.8 1862.1,749.1 1864.7,754.2C1867.3,759.2 1872.4,768.0 1872.7,773.4C1873.0,778.7 1868.7,781.9 1866.3,786.1C1863.9,790.4 1860.0,795.2 1858.3,798.9C1856.6,802.7 1856.7,806.9 1856.4,808.5L1853.8,808.5C1853.5,806.9 1853.6,802.7 1851.9,798.9C1850.2,795.2 1846.3,790.4 1843.9,786.1C1841.5,781.9 1837.2,778.7 1837.5,773.4C1837.8,768.0 1842.9,759.2 1845.5,754.2C1848.1,749.1 1851.6,744.8 1852.9,743.0Z" fill="#8A93FF" stroke="#8A93FF" stroke-width="1.2" stroke-linejoin="round"/>
<path d="M1897.8,729.4C1898.9,731.1 1901.6,736.2 1904.5,739.8C1907.4,743.4 1914.8,747.2 1915.1,751.0C1915.3,754.7 1908.8,758.4 1906.1,762.2C1903.4,765.9 1900.0,771.5 1898.7,773.4L1894.3,773.4C1893.0,771.5 1889.6,765.9 1886.9,762.2C1884.2,758.4 1877.7,754.7 1877.9,751.0C1878.2,747.2 1885.6,743.4 1888.5,739.8C1891.4,736.2 1894.1,731.1 1895.2,729.4Z" fill="#DF70FF" stroke="#DF70FF" stroke-width="1.2" stroke-linejoin="round"/>
<path d="M1939.2,743.8C1940.3,745.5 1943.2,749.5 1945.9,754.2C1948.6,758.8 1955.2,766.4 1955.5,771.8C1955.8,777.1 1949.9,781.1 1947.5,786.1C1945.1,791.2 1942.4,797.3 1941.1,802.1C1939.8,806.9 1940.0,809.8 1939.8,814.9C1939.7,820.0 1940.2,829.9 1940.3,832.8L1935.5,832.8C1935.6,829.9 1936.1,820.0 1936.0,814.9C1935.8,809.8 1936.0,806.9 1934.7,802.1C1933.4,797.3 1930.7,791.2 1928.3,786.1C1925.9,781.1 1920.0,777.1 1920.3,771.8C1920.6,766.4 1927.2,758.8 1929.9,754.2C1932.6,749.5 1935.5,745.5 1936.6,743.8Z" fill="#FF5EDC" stroke="#FF5EDC" stroke-width="1.2" stroke-linejoin="round"/>
<path d="M1980.6,743.0C1981.7,744.8 1984.6,749.4 1987.3,754.2C1990.0,759.0 1996.4,766.4 1996.9,771.8C1997.4,777.1 1992.8,781.1 1990.5,786.1C1988.2,791.2 1984.8,797.3 1983.3,802.1C1981.8,806.9 1981.5,809.8 1981.2,814.9C1980.9,820.0 1981.5,829.9 1981.5,832.8L1977.1,832.8C1977.1,829.9 1977.7,820.0 1977.4,814.9C1977.1,809.8 1976.8,806.9 1975.3,802.1C1973.8,797.3 1970.4,791.2 1968.1,786.1C1965.8,781.1 1961.2,777.1 1961.7,771.8C1962.2,766.4 1968.6,759.0 1971.3,754.2C1974.0,749.4 1976.9,744.8 1978.0,743.0Z" fill="#FF60A8" stroke="#FF60A8" stroke-width="1.2" stroke-linejoin="round"/>
<path d="M1461,700.1V833.0H2004" fill="none" stroke="#151515" stroke-width="5.8" stroke-linejoin="round"/>
<text x="1615.4" y="688.6" font-size="63.0" textLength="198.3" lengthAdjust="spacingAndGlyphs" font-style="italic" stroke="#141414" stroke-width="0.4" xml:space="preserve">Cxcl12</text>
<rect x="1461.0" y="903.1" width="208.0" height="129.3" fill="#fde9e9"/>
<rect x="1669.0" y="903.1" width="82.0" height="129.3" fill="#e4fce6"/>
<rect x="1751.0" y="903.1" width="125.0" height="129.3" fill="#e6f2fd"/>
<rect x="1876.0" y="903.1" width="128.0" height="129.3" fill="#fde8fb"/>
<path d="M1482.5,966.6V1035.3M1523.9,967.4V1035.3M1566.3,994.5V1035.3M1606.7,996.1V1035.3M1689.5,948.2V1034.8M1730.9,971.4V1034.8M1772.3,903.4V1035.3M1813.7,927.4V1035.3M1855.1,927.4V1035.3M1896.5,910.6V1035.3M1937.9,922.6V997.7M1979.3,913.8V1035.3" stroke="#5b4a55" stroke-width="4.6" stroke-opacity="0.24" fill="none"/>
<path d="M1690.8,972.2C1691.1,974.3 1692.0,980.2 1692.7,984.9C1693.4,989.7 1694.0,996.4 1695.1,1000.9C1696.2,1005.5 1699.0,1008.9 1699.1,1012.1C1699.2,1015.3 1695.6,1017.7 1695.9,1020.1C1696.2,1022.5 1698.7,1024.1 1700.7,1026.5C1702.7,1029.0 1706.8,1033.5 1708.1,1034.8L1670.9,1034.8C1672.2,1033.5 1676.3,1029.0 1678.3,1026.5C1680.3,1024.1 1682.8,1022.5 1683.1,1020.1C1683.4,1017.7 1679.8,1015.3 1679.9,1012.1C1680.0,1008.9 1682.8,1005.5 1683.9,1000.9C1685.0,996.4 1685.6,989.7 1686.3,984.9C1687.0,980.2 1687.9,974.3 1688.2,972.2Z" fill="#00BF70" stroke="#00BF70" stroke-width="1.2" stroke-linejoin="round"/>
<path d="M1732.2,971.4C1732.8,973.6 1734.3,980.0 1735.7,984.9C1737.1,989.9 1740.1,996.7 1740.5,1000.9C1740.9,1005.2 1739.2,1007.6 1738.3,1010.5C1737.3,1013.5 1734.5,1016.1 1734.9,1018.5C1735.3,1020.9 1738.1,1022.2 1740.5,1024.9C1742.9,1027.6 1748.0,1033.2 1749.5,1034.8L1712.3,1034.8C1713.8,1033.2 1718.9,1027.6 1721.3,1024.9C1723.7,1022.2 1726.5,1020.9 1726.9,1018.5C1727.3,1016.1 1724.5,1013.5 1723.5,1010.5C1722.6,1007.6 1720.9,1005.2 1721.3,1000.9C1721.7,996.7 1724.7,989.9 1726.1,984.9C1727.5,980.0 1729.0,973.6 1729.6,971.4Z" fill="#00C2AD" stroke="#00C2AD" stroke-width="1.2" stroke-linejoin="round"/>
<path d="M1775.2,903.4C1775.3,908.2 1774.7,926.6 1775.8,932.2C1776.9,937.0 1779.3,934.3 1781.9,937.0C1784.5,939.6 1791.2,944.2 1791.5,948.2C1791.8,952.2 1785.6,957.0 1783.5,961.0C1781.4,965.0 1780.2,969.0 1778.7,972.2C1777.2,975.4 1775.2,978.8 1774.5,980.2L1770.1,980.2C1769.4,978.8 1767.4,975.4 1765.9,972.2C1764.4,969.0 1763.2,965.0 1761.1,961.0C1759.0,957.0 1752.8,952.2 1753.1,948.2C1753.4,944.2 1760.1,939.6 1762.7,937.0C1765.3,934.3 1767.7,937.0 1768.8,932.2C1769.9,926.6 1769.3,908.2 1769.4,903.4Z" fill="#00BCDC" stroke="#00BCDC" stroke-width="1.2" stroke-linejoin="round"/>
<path d="M1815.6,927.4C1815.8,929.8 1815.0,937.5 1816.6,941.8C1818.1,946.0 1822.2,949.0 1824.9,953.0C1827.6,957.0 1832.6,961.5 1832.9,965.8C1833.2,970.0 1829.4,973.8 1826.5,978.6C1823.6,983.4 1817.2,991.9 1815.3,994.5L1812.1,994.5C1810.2,991.9 1803.8,983.4 1800.9,978.6C1798.0,973.8 1794.2,970.0 1794.5,965.8C1794.8,961.5 1799.8,957.0 1802.5,953.0C1805.2,949.0 1809.3,946.0 1810.8,941.8C1812.4,937.5 1811.6,929.8 1811.8,927.4Z" fill="#00AEFE" stroke="#00AEFE" stroke-width="1.2" stroke-linejoin="round"/>
<path d="M1856.4,940.2C1857.5,941.8 1860.2,946.3 1863.1,949.8C1866.0,953.2 1873.1,957.2 1873.7,961.0C1874.2,964.7 1869.0,968.4 1866.3,972.2C1863.6,975.9 1858.8,981.5 1857.3,983.4L1852.9,983.4C1851.4,981.5 1846.6,975.9 1843.9,972.2C1841.2,968.4 1836.0,964.7 1836.5,961.0C1837.1,957.2 1844.2,953.2 1847.1,949.8C1850.0,946.3 1852.7,941.8 1853.8,940.2Z" fill="#8A93FF" stroke="#8A93FF" stroke-width="1.2" stroke-linejoin="round"/>
<path d="M1897.8,910.6C1898.6,912.9 1900.4,919.8 1902.9,924.2C1905.3,928.6 1910.4,933.0 1912.5,937.0C1914.6,941.0 1915.7,944.2 1915.7,948.2C1915.7,952.2 1914.9,956.4 1912.5,961.0C1910.1,965.5 1903.7,971.9 1901.3,975.4C1898.9,978.8 1898.6,980.7 1898.1,981.8L1894.9,981.8C1894.4,980.7 1894.1,978.8 1891.7,975.4C1889.3,971.9 1882.9,965.5 1880.5,961.0C1878.1,956.4 1877.3,952.2 1877.3,948.2C1877.3,944.2 1878.4,941.0 1880.5,937.0C1882.6,933.0 1887.7,928.6 1890.1,924.2C1892.6,919.8 1894.4,912.9 1895.2,910.6Z" fill="#DF70FF" stroke="#DF70FF" stroke-width="1.2" stroke-linejoin="round"/>
<path d="M1942.4,937.0C1943.5,938.0 1946.8,940.7 1949.1,943.4C1951.4,946.0 1956.1,949.8 1956.1,953.0C1956.1,956.2 1951.6,959.1 1949.1,962.6C1946.6,966.0 1942.4,971.9 1941.1,973.8L1934.7,973.8C1933.4,971.9 1929.2,966.0 1926.7,962.6C1924.2,959.1 1919.7,956.2 1919.7,953.0C1919.7,949.8 1924.4,946.0 1926.7,943.4C1929.0,940.7 1932.3,938.0 1933.4,937.0Z" fill="#FF5EDC" stroke="#FF5EDC" stroke-width="1.2" stroke-linejoin="round"/>
<path d="M1981.5,913.8C1983.0,915.5 1988.0,920.3 1990.5,924.2C1992.9,928.0 1994.9,930.8 1996.3,937.0C1997.6,943.1 1998.9,955.1 1998.5,961.0C1998.1,966.8 1996.1,968.2 1993.7,972.2C1991.3,976.2 1986.2,981.8 1984.1,984.9C1982.0,988.1 1981.4,990.3 1980.9,991.3L1977.7,991.3C1977.2,990.3 1976.6,988.1 1974.5,984.9C1972.4,981.8 1967.3,976.2 1964.9,972.2C1962.5,968.2 1960.5,966.8 1960.1,961.0C1959.7,955.1 1961.0,943.1 1962.3,937.0C1963.7,930.8 1965.7,928.0 1968.1,924.2C1970.6,920.3 1975.6,915.5 1977.1,913.8Z" fill="#FF60A8" stroke="#FF60A8" stroke-width="1.2" stroke-linejoin="round"/>
<path d="M1461,902.1V1035.3H2004" fill="none" stroke="#151515" stroke-width="5.8" stroke-linejoin="round"/>
<text x="1609.2" y="890.6" font-size="63.0" textLength="222.8" lengthAdjust="spacingAndGlyphs" font-style="italic" stroke="#141414" stroke-width="0.4" xml:space="preserve">S100a6</text>
<rect x="1461.0" y="1105.1" width="208.0" height="129.3" fill="#fde9e9"/>
<rect x="1669.0" y="1105.1" width="82.0" height="129.3" fill="#e4fce6"/>
<rect x="1751.0" y="1105.1" width="125.0" height="129.3" fill="#e6f2fd"/>
<rect x="1876.0" y="1105.1" width="128.0" height="129.3" fill="#fde8fb"/>
<path d="M1482.5,1142.2V1236.8M1523.9,1150.2V1236.8M1566.3,1153.4V1236.8M1606.7,1139.0V1236.8M1648.1,1160.6V1236.8M1689.5,1155.0V1237.3M1730.9,1175.8V1237.3M1772.3,1186.9V1237.3M1813.7,1181.4V1236.8M1855.1,1155.0V1236.8M1896.5,1106.2V1236.8M1937.9,1134.2V1236.8M1979.3,1151.0V1236.8" stroke="#5b4a55" stroke-width="4.6" stroke-opacity="0.24" fill="none"/>
<path d="M1484.1,1158.2C1485.2,1160.3 1487.8,1165.6 1490.5,1171.0C1493.2,1176.3 1498.8,1184.8 1500.1,1190.1C1501.4,1195.5 1500.4,1198.7 1498.5,1202.9C1496.6,1207.2 1491.2,1212.9 1488.9,1215.7C1486.6,1218.5 1485.2,1217.9 1484.4,1219.7C1483.6,1221.6 1483.1,1224.9 1484.1,1226.9C1485.1,1228.9 1488.1,1230.1 1490.5,1231.7C1492.9,1233.4 1497.2,1236.0 1498.5,1236.8L1466.5,1236.8C1467.8,1236.0 1472.1,1233.4 1474.5,1231.7C1476.9,1230.1 1479.9,1228.9 1480.9,1226.9C1481.9,1224.9 1481.4,1221.6 1480.6,1219.7C1479.8,1217.9 1478.4,1218.5 1476.1,1215.7C1473.8,1212.9 1468.4,1207.2 1466.5,1202.9C1464.6,1198.7 1463.6,1195.5 1464.9,1190.1C1466.2,1184.8 1471.8,1176.3 1474.5,1171.0C1477.2,1165.6 1479.8,1160.3 1480.9,1158.2Z" fill="#FA746C" stroke="#FA746C" stroke-width="1.2" stroke-linejoin="round"/>
<path d="M1526.1,1163.0C1527.1,1164.8 1529.3,1169.1 1531.9,1174.2C1534.5,1179.2 1540.4,1188.0 1541.5,1193.3C1542.6,1198.7 1540.4,1202.1 1538.3,1206.1C1536.2,1210.1 1530.8,1215.0 1528.7,1217.3C1526.6,1219.7 1526.3,1218.3 1525.8,1220.2C1525.3,1222.1 1524.8,1226.5 1525.8,1228.5C1526.8,1230.6 1530.0,1231.1 1531.9,1232.5C1533.8,1233.9 1536.2,1236.1 1537.0,1236.8L1510.8,1236.8C1511.6,1236.1 1514.0,1233.9 1515.9,1232.5C1517.8,1231.1 1521.0,1230.6 1522.0,1228.5C1523.0,1226.5 1522.5,1222.1 1522.0,1220.2C1521.5,1218.3 1521.2,1219.7 1519.1,1217.3C1517.0,1215.0 1511.6,1210.1 1509.5,1206.1C1507.4,1202.1 1505.2,1198.7 1506.3,1193.3C1507.4,1188.0 1513.3,1179.2 1515.9,1174.2C1518.5,1169.1 1520.7,1164.8 1521.7,1163.0Z" fill="#F98B00" stroke="#F98B00" stroke-width="1.2" stroke-linejoin="round"/>
<path d="M1567.6,1153.4C1567.9,1155.0 1568.1,1159.2 1569.5,1163.0C1570.9,1166.7 1573.5,1171.0 1575.9,1175.8C1578.3,1180.6 1583.1,1186.7 1583.9,1191.7C1584.7,1196.8 1582.8,1201.9 1580.7,1206.1C1578.6,1210.4 1573.2,1215.0 1571.1,1217.3C1569.0,1219.7 1568.7,1218.1 1568.2,1220.2C1567.7,1222.3 1567.7,1227.9 1568.2,1230.1C1568.7,1232.3 1570.0,1232.2 1571.1,1233.3C1572.2,1234.4 1574.0,1236.3 1574.6,1236.8L1558.0,1236.8C1558.6,1236.3 1560.4,1234.4 1561.5,1233.3C1562.6,1232.2 1563.9,1232.3 1564.4,1230.1C1564.9,1227.9 1564.9,1222.3 1564.4,1220.2C1563.9,1218.1 1563.6,1219.7 1561.5,1217.3C1559.4,1215.0 1554.0,1210.4 1551.9,1206.1C1549.8,1201.9 1547.9,1196.8 1548.7,1191.7C1549.5,1186.7 1554.3,1180.6 1556.7,1175.8C1559.1,1171.0 1561.7,1166.7 1563.1,1163.0C1564.5,1159.2 1564.7,1155.0 1565.0,1153.4Z" fill="#C69A00" stroke="#C69A00" stroke-width="1.2" stroke-linejoin="round"/>
<path d="M1608.9,1155.0C1609.9,1156.8 1612.5,1161.9 1614.7,1166.2C1616.9,1170.4 1620.6,1175.8 1622.1,1180.6C1623.5,1185.4 1624.6,1190.7 1623.7,1194.9C1622.7,1199.2 1618.7,1202.9 1616.3,1206.1C1613.9,1209.3 1610.4,1210.9 1609.1,1214.1C1607.8,1217.3 1607.7,1222.7 1608.6,1225.3C1609.6,1228.0 1612.6,1228.2 1614.7,1230.1C1616.8,1232.0 1620.3,1235.7 1621.4,1236.8L1592.0,1236.8C1593.1,1235.7 1596.6,1232.0 1598.7,1230.1C1600.8,1228.2 1603.8,1228.0 1604.8,1225.3C1605.7,1222.7 1605.6,1217.3 1604.3,1214.1C1603.0,1210.9 1599.5,1209.3 1597.1,1206.1C1594.7,1202.9 1590.7,1199.2 1589.7,1194.9C1588.8,1190.7 1589.9,1185.4 1591.3,1180.6C1592.8,1175.8 1596.5,1170.4 1598.7,1166.2C1600.9,1161.9 1603.5,1156.8 1604.5,1155.0Z" fill="#88AC00" stroke="#88AC00" stroke-width="1.2" stroke-linejoin="round"/>
<path d="M1652.9,1160.6C1653.6,1161.0 1654.9,1160.7 1656.9,1163.0C1658.9,1165.2 1663.4,1169.6 1665.1,1174.2C1666.7,1178.7 1666.8,1185.4 1666.7,1190.1C1666.5,1194.9 1665.6,1199.2 1664.1,1202.9C1662.6,1206.7 1659.1,1209.9 1657.7,1212.5C1656.3,1215.2 1655.7,1216.5 1655.5,1218.9C1655.2,1221.3 1655.4,1223.9 1656.1,1226.9C1656.8,1229.9 1659.0,1235.2 1659.6,1236.8L1636.6,1236.8C1637.2,1235.2 1639.4,1229.9 1640.1,1226.9C1640.8,1223.9 1641.0,1221.3 1640.7,1218.9C1640.5,1216.5 1639.9,1215.2 1638.5,1212.5C1637.1,1209.9 1633.6,1206.7 1632.1,1202.9C1630.6,1199.2 1629.7,1194.9 1629.5,1190.1C1629.4,1185.4 1629.5,1178.7 1631.1,1174.2C1632.8,1169.6 1637.3,1165.2 1639.3,1163.0C1641.3,1160.7 1642.6,1161.0 1643.3,1160.6Z" fill="#06B800" stroke="#06B800" stroke-width="1.2" stroke-linejoin="round"/>
<path d="M1815.0,1181.4C1816.4,1183.6 1820.9,1190.3 1823.3,1194.9C1825.6,1199.6 1828.3,1205.6 1829.1,1209.3C1829.9,1213.1 1829.0,1214.9 1828.1,1217.3C1827.2,1219.7 1824.0,1222.1 1823.6,1223.7C1823.2,1225.3 1824.8,1225.6 1825.9,1226.9C1826.9,1228.3 1828.6,1230.1 1829.7,1231.7C1830.8,1233.4 1831.8,1236.0 1832.3,1236.8L1795.1,1236.8C1795.6,1236.0 1796.6,1233.4 1797.7,1231.7C1798.8,1230.1 1800.5,1228.3 1801.5,1226.9C1802.6,1225.6 1804.2,1225.3 1803.8,1223.7C1803.4,1222.1 1800.2,1219.7 1799.3,1217.3C1798.4,1214.9 1797.5,1213.1 1798.3,1209.3C1799.1,1205.6 1801.8,1199.6 1804.1,1194.9C1806.5,1190.3 1811.0,1183.6 1812.4,1181.4Z" fill="#00AEFE" stroke="#00AEFE" stroke-width="1.2" stroke-linejoin="round"/>
<path d="M1856.4,1155.0C1857.0,1157.6 1858.2,1166.2 1859.9,1171.0C1861.5,1175.8 1864.5,1179.8 1866.3,1183.8C1868.1,1187.7 1870.5,1191.2 1870.5,1194.9C1870.5,1198.7 1867.9,1202.7 1866.3,1206.1C1864.7,1209.6 1861.8,1213.3 1860.9,1215.7C1860.0,1218.1 1860.0,1218.7 1860.9,1220.5C1861.8,1222.4 1864.2,1224.2 1866.3,1226.9C1868.4,1229.6 1872.4,1235.2 1873.7,1236.8L1836.5,1236.8C1837.8,1235.2 1841.8,1229.6 1843.9,1226.9C1846.0,1224.2 1848.4,1222.4 1849.3,1220.5C1850.2,1218.7 1850.2,1218.1 1849.3,1215.7C1848.4,1213.3 1845.5,1209.6 1843.9,1206.1C1842.3,1202.7 1839.7,1198.7 1839.7,1194.9C1839.7,1191.2 1842.1,1187.7 1843.9,1183.8C1845.7,1179.8 1848.7,1175.8 1850.3,1171.0C1852.0,1166.2 1853.2,1157.6 1853.8,1155.0Z" fill="#8A93FF" stroke="#8A93FF" stroke-width="1.2" stroke-linejoin="round"/>
<path d="M1898.1,1158.2C1898.9,1160.3 1901.0,1166.2 1902.9,1171.0C1904.8,1175.8 1907.4,1181.1 1909.3,1186.9C1911.2,1192.8 1913.1,1201.1 1914.1,1206.1C1915.1,1211.2 1916.1,1214.1 1915.1,1217.3C1914.0,1220.5 1909.3,1223.2 1908.0,1225.3C1906.7,1227.5 1906.3,1228.2 1907.1,1230.1C1907.8,1232.0 1911.6,1235.7 1912.5,1236.8L1880.5,1236.8C1881.4,1235.7 1885.2,1232.0 1885.9,1230.1C1886.7,1228.2 1886.3,1227.5 1885.0,1225.3C1883.7,1223.2 1879.0,1220.5 1877.9,1217.3C1876.9,1214.1 1877.9,1211.2 1878.9,1206.1C1879.9,1201.1 1881.8,1192.8 1883.7,1186.9C1885.6,1181.1 1888.2,1175.8 1890.1,1171.0C1892.0,1166.2 1894.1,1160.3 1894.9,1158.2Z" fill="#DF70FF" stroke="#DF70FF" stroke-width="1.2" stroke-linejoin="round"/>
<path d="M1940.1,1147.0C1941.1,1149.1 1943.6,1155.2 1945.9,1159.8C1948.2,1164.3 1952.1,1169.6 1953.9,1174.2C1955.7,1178.7 1956.5,1182.2 1956.5,1186.9C1956.5,1191.7 1955.7,1198.4 1953.9,1202.9C1952.1,1207.5 1947.5,1211.2 1945.9,1214.1C1944.3,1217.1 1944.0,1218.4 1944.3,1220.5C1944.6,1222.7 1945.6,1224.2 1947.5,1226.9C1949.4,1229.6 1954.2,1235.2 1955.5,1236.8L1920.3,1236.8C1921.6,1235.2 1926.4,1229.6 1928.3,1226.9C1930.2,1224.2 1931.2,1222.7 1931.5,1220.5C1931.8,1218.4 1931.5,1217.1 1929.9,1214.1C1928.3,1211.2 1923.7,1207.5 1921.9,1202.9C1920.1,1198.4 1919.3,1191.7 1919.3,1186.9C1919.3,1182.2 1920.1,1178.7 1921.9,1174.2C1923.7,1169.6 1927.6,1164.3 1929.9,1159.8C1932.2,1155.2 1934.7,1149.1 1935.7,1147.0Z" fill="#FF5EDC" stroke="#FF5EDC" stroke-width="1.2" stroke-linejoin="round"/>
<path d="M1980.9,1180.6C1981.3,1182.7 1982.2,1189.1 1983.3,1193.3C1984.4,1197.6 1985.9,1201.9 1987.3,1206.1C1988.7,1210.4 1990.6,1214.9 1991.5,1218.9C1992.3,1222.9 1991.8,1227.1 1992.4,1230.1C1993.1,1233.1 1994.8,1235.7 1995.3,1236.8L1963.3,1236.8C1963.8,1235.7 1965.5,1233.1 1966.2,1230.1C1966.8,1227.1 1966.3,1222.9 1967.1,1218.9C1968.0,1214.9 1969.9,1210.4 1971.3,1206.1C1972.7,1201.9 1974.2,1197.6 1975.3,1193.3C1976.4,1189.1 1977.3,1182.7 1977.7,1180.6Z" fill="#FF60A8" stroke="#FF60A8" stroke-width="1.2" stroke-linejoin="round"/>
<path d="M1461,1104.1V1237.3H2004" fill="none" stroke="#151515" stroke-width="5.8" stroke-linejoin="round"/>
<text x="1623.4" y="1092.6" font-size="63.0" textLength="205.5" lengthAdjust="spacingAndGlyphs" font-style="italic" stroke="#141414" stroke-width="0.4" xml:space="preserve">Col1a2</text>
<rect x="1461.0" y="1307.1" width="208.0" height="129.3" fill="#fde9e9"/>
<rect x="1669.0" y="1307.1" width="82.0" height="129.3" fill="#e4fce6"/>
<rect x="1751.0" y="1307.1" width="125.0" height="129.3" fill="#e6f2fd"/>
<rect x="1876.0" y="1307.1" width="128.0" height="129.3" fill="#fde8fb"/>
<path d="M1482.5,1358.6V1439.3M1523.9,1366.6V1439.3M1566.3,1371.4V1439.3M1606.7,1351.4V1439.3M1648.1,1384.2V1439.3M1689.5,1366.6V1438.8M1730.9,1376.2V1439.3M1772.3,1366.6V1439.3M1813.7,1358.6V1438.8M1855.1,1326.6V1438.8M1896.5,1335.4V1439.3M1937.9,1306.6V1439.3M1979.3,1347.4V1438.8" stroke="#5b4a55" stroke-width="4.6" stroke-opacity="0.24" fill="none"/>
<path d="M1690.8,1395.3C1691.4,1398.0 1693.8,1407.3 1694.3,1411.3C1694.8,1415.3 1694.0,1417.2 1693.5,1419.3C1693.0,1421.5 1691.4,1422.5 1691.1,1424.1C1690.8,1425.7 1690.1,1427.3 1691.4,1428.9C1692.8,1430.5 1696.4,1432.1 1699.1,1433.7C1701.8,1435.4 1706.0,1438.0 1707.4,1438.8L1671.6,1438.8C1673.0,1438.0 1677.2,1435.4 1679.9,1433.7C1682.6,1432.1 1686.2,1430.5 1687.6,1428.9C1688.9,1427.3 1688.2,1425.7 1687.9,1424.1C1687.6,1422.5 1686.0,1421.5 1685.5,1419.3C1685.0,1417.2 1684.2,1415.3 1684.7,1411.3C1685.2,1407.3 1687.6,1398.0 1688.2,1395.3Z" fill="#00BF70" stroke="#00BF70" stroke-width="1.2" stroke-linejoin="round"/>
<path d="M1815.9,1368.2C1817.7,1370.6 1823.7,1377.2 1826.5,1382.6C1829.3,1387.9 1832.9,1394.8 1832.9,1400.1C1832.9,1405.5 1828.6,1410.3 1826.5,1414.5C1824.4,1418.8 1821.2,1421.7 1820.1,1425.7C1819.0,1429.8 1820.1,1436.7 1820.1,1438.8L1807.3,1438.8C1807.3,1436.7 1808.4,1429.8 1807.3,1425.7C1806.2,1421.7 1803.0,1418.8 1800.9,1414.5C1798.8,1410.3 1794.5,1405.5 1794.5,1400.1C1794.5,1394.8 1798.1,1387.9 1800.9,1382.6C1803.7,1377.2 1809.7,1370.6 1811.5,1368.2Z" fill="#00AEFE" stroke="#00AEFE" stroke-width="1.2" stroke-linejoin="round"/>
<path d="M1856.4,1326.6C1857.2,1329.0 1859.0,1335.9 1861.5,1341.0C1863.9,1346.0 1869.0,1351.6 1871.1,1357.0C1873.2,1362.3 1874.0,1367.6 1874.3,1373.0C1874.6,1378.3 1874.0,1383.6 1872.7,1388.9C1871.4,1394.3 1868.4,1400.1 1866.3,1404.9C1864.2,1409.7 1860.7,1414.3 1859.9,1417.7C1859.1,1421.2 1860.3,1422.2 1861.5,1425.7C1862.7,1429.2 1866.3,1436.7 1867.3,1438.8L1842.9,1438.8C1843.9,1436.7 1847.5,1429.2 1848.7,1425.7C1849.9,1422.2 1851.1,1421.2 1850.3,1417.7C1849.5,1414.3 1846.0,1409.7 1843.9,1404.9C1841.8,1400.1 1838.8,1394.3 1837.5,1388.9C1836.2,1383.6 1835.6,1378.3 1835.9,1373.0C1836.2,1367.6 1837.0,1362.3 1839.1,1357.0C1841.2,1351.6 1846.3,1346.0 1848.7,1341.0C1851.2,1335.9 1853.0,1329.0 1853.8,1326.6Z" fill="#8A93FF" stroke="#8A93FF" stroke-width="1.2" stroke-linejoin="round"/>
<path d="M1897.8,1335.4C1898.9,1337.6 1901.5,1343.2 1904.5,1349.0C1907.5,1354.7 1914.9,1363.6 1915.7,1369.8C1916.5,1375.9 1911.7,1380.4 1909.3,1385.8C1906.9,1391.1 1903.1,1397.5 1901.3,1401.7C1899.5,1406.0 1898.9,1409.7 1898.4,1411.3L1894.6,1411.3C1894.1,1409.7 1893.5,1406.0 1891.7,1401.7C1889.9,1397.5 1886.1,1391.1 1883.7,1385.8C1881.3,1380.4 1876.5,1375.9 1877.3,1369.8C1878.1,1363.6 1885.5,1354.7 1888.5,1349.0C1891.5,1343.2 1894.1,1337.6 1895.2,1335.4Z" fill="#DF70FF" stroke="#DF70FF" stroke-width="1.2" stroke-linejoin="round"/>
<path d="M1939.2,1306.6C1940.3,1308.3 1943.4,1313.4 1945.9,1317.0C1948.3,1320.6 1952.0,1324.2 1953.9,1328.2C1955.8,1332.2 1957.6,1336.7 1957.1,1341.0C1956.6,1345.2 1953.1,1349.8 1950.7,1353.8C1948.3,1357.8 1944.4,1361.8 1942.7,1365.0C1941.0,1368.2 1940.9,1369.0 1940.3,1373.0C1939.7,1377.0 1939.5,1386.3 1939.3,1388.9L1936.5,1388.9C1936.3,1386.3 1936.1,1377.0 1935.5,1373.0C1934.9,1369.0 1934.8,1368.2 1933.1,1365.0C1931.4,1361.8 1927.5,1357.8 1925.1,1353.8C1922.7,1349.8 1919.2,1345.2 1918.7,1341.0C1918.2,1336.7 1920.0,1332.2 1921.9,1328.2C1923.8,1324.2 1927.5,1320.6 1929.9,1317.0C1932.4,1313.4 1935.5,1308.3 1936.6,1306.6Z" fill="#FF5EDC" stroke="#FF5EDC" stroke-width="1.2" stroke-linejoin="round"/>
<path d="M1980.6,1347.4C1981.7,1349.8 1985.1,1357.0 1987.3,1361.8C1989.5,1366.6 1991.8,1371.6 1993.7,1376.2C1995.6,1380.7 1998.8,1384.7 1998.5,1388.9C1998.2,1393.2 1994.5,1397.5 1992.1,1401.7C1989.7,1406.0 1985.7,1410.8 1984.1,1414.5C1982.5,1418.3 1982.2,1420.1 1982.5,1424.1C1982.8,1428.2 1985.2,1436.4 1985.7,1438.8L1972.9,1438.8C1973.4,1436.4 1975.8,1428.2 1976.1,1424.1C1976.4,1420.1 1976.1,1418.3 1974.5,1414.5C1972.9,1410.8 1968.9,1406.0 1966.5,1401.7C1964.1,1397.5 1960.4,1393.2 1960.1,1388.9C1959.8,1384.7 1963.0,1380.7 1964.9,1376.2C1966.8,1371.6 1969.1,1366.6 1971.3,1361.8C1973.5,1357.0 1976.9,1349.8 1978.0,1347.4Z" fill="#FF60A8" stroke="#FF60A8" stroke-width="1.2" stroke-linejoin="round"/>
<path d="M1461,1306.1V1439.3H2004" fill="none" stroke="#151515" stroke-width="5.8" stroke-linejoin="round"/>
<text x="1641.4" y="1294.6" font-size="63.0" textLength="204.5" lengthAdjust="spacingAndGlyphs" font-style="italic" stroke="#141414" stroke-width="0.4" xml:space="preserve">Col5a2</text>
<rect x="1461.0" y="1509.4" width="208.0" height="128.9" fill="#fde9e9"/>
<rect x="1669.0" y="1509.4" width="82.0" height="128.9" fill="#e4fce6"/>
<rect x="1751.0" y="1509.4" width="125.0" height="128.9" fill="#e6f2fd"/>
<rect x="1876.0" y="1509.4" width="128.0" height="128.9" fill="#fde8fb"/>
<path d="M1482.5,1535.0V1641.3M1523.9,1523.0V1641.3M1566.3,1524.6V1641.3M1606.7,1541.4V1640.8M1648.1,1523.8V1640.8M1689.5,1563.8V1640.8M1730.9,1509.4V1641.3M1772.3,1549.4V1640.8M1813.7,1548.6V1624.5M1855.1,1553.4V1640.8M1896.5,1532.6V1641.3M1937.9,1563.8V1640.8M1979.3,1544.6V1640.8" stroke="#5b4a55" stroke-width="4.6" stroke-opacity="0.24" fill="none"/>
<path d="M1483.8,1535.0C1484.6,1536.8 1486.0,1540.3 1488.9,1546.2C1491.8,1552.0 1500.0,1563.8 1501.1,1570.2C1502.1,1576.6 1497.3,1579.8 1495.3,1584.6C1493.3,1589.4 1490.5,1594.7 1488.9,1598.9C1487.3,1603.2 1486.4,1606.7 1485.7,1610.1C1485.0,1613.6 1484.6,1618.1 1484.4,1619.7L1480.6,1619.7C1480.4,1618.1 1480.0,1613.6 1479.3,1610.1C1478.6,1606.7 1477.7,1603.2 1476.1,1598.9C1474.5,1594.7 1471.7,1589.4 1469.7,1584.6C1467.7,1579.8 1462.9,1576.6 1463.9,1570.2C1465.0,1563.8 1473.2,1552.0 1476.1,1546.2C1479.0,1540.3 1480.4,1536.8 1481.2,1535.0Z" fill="#FA746C" stroke="#FA746C" stroke-width="1.2" stroke-linejoin="round"/>
<path d="M1527.1,1536.6C1528.4,1538.4 1532.5,1543.8 1535.1,1547.8C1537.7,1551.8 1542.5,1556.0 1542.5,1560.6C1542.5,1565.1 1537.4,1569.9 1535.1,1575.0C1532.8,1580.0 1530.2,1585.6 1528.7,1590.9C1527.2,1596.3 1526.8,1602.7 1526.3,1606.9C1525.8,1611.2 1525.9,1614.9 1525.8,1616.5L1522.0,1616.5C1521.9,1614.9 1522.0,1611.2 1521.5,1606.9C1521.0,1602.7 1520.6,1596.3 1519.1,1590.9C1517.6,1585.6 1515.0,1580.0 1512.7,1575.0C1510.4,1569.9 1505.3,1565.1 1505.3,1560.6C1505.3,1556.0 1510.1,1551.8 1512.7,1547.8C1515.3,1543.8 1519.4,1538.4 1520.7,1536.6Z" fill="#F98B00" stroke="#F98B00" stroke-width="1.2" stroke-linejoin="round"/>
<path d="M1567.6,1524.6C1568.7,1526.3 1571.3,1530.3 1574.3,1535.0C1577.3,1539.6 1585.0,1547.2 1585.5,1552.6C1586.0,1557.9 1580.0,1562.2 1577.5,1567.0C1575.0,1571.8 1571.9,1576.8 1570.3,1581.4C1568.7,1585.9 1568.3,1592.0 1567.9,1594.1L1564.7,1594.1C1564.3,1592.0 1563.9,1585.9 1562.3,1581.4C1560.7,1576.8 1557.6,1571.8 1555.1,1567.0C1552.6,1562.2 1546.6,1557.9 1547.1,1552.6C1547.6,1547.2 1555.3,1539.6 1558.3,1535.0C1561.3,1530.3 1563.9,1526.3 1565.0,1524.6Z" fill="#C69A00" stroke="#C69A00" stroke-width="1.2" stroke-linejoin="round"/>
<path d="M1608.0,1541.4C1609.1,1543.0 1612.5,1547.2 1614.7,1551.0C1616.9,1554.7 1619.3,1559.8 1621.1,1563.8C1622.9,1567.8 1625.0,1571.0 1625.3,1575.0C1625.5,1579.0 1624.5,1583.0 1622.7,1587.8C1620.9,1592.5 1617.0,1599.2 1614.7,1603.7C1612.4,1608.3 1609.7,1610.4 1608.6,1614.9C1607.6,1619.5 1607.8,1627.5 1608.3,1630.9C1608.8,1634.4 1610.5,1634.1 1611.5,1635.7C1612.5,1637.4 1613.6,1640.0 1614.1,1640.8L1599.3,1640.8C1599.8,1640.0 1600.9,1637.4 1601.9,1635.7C1602.9,1634.1 1604.6,1634.4 1605.1,1630.9C1605.6,1627.5 1605.8,1619.5 1604.8,1614.9C1603.7,1610.4 1601.0,1608.3 1598.7,1603.7C1596.4,1599.2 1592.5,1592.5 1590.7,1587.8C1588.9,1583.0 1587.9,1579.0 1588.1,1575.0C1588.4,1571.0 1590.5,1567.8 1592.3,1563.8C1594.1,1559.8 1596.5,1554.7 1598.7,1551.0C1600.9,1547.2 1604.3,1543.0 1605.4,1541.4Z" fill="#88AC00" stroke="#88AC00" stroke-width="1.2" stroke-linejoin="round"/>
<path d="M1651.3,1523.8C1651.7,1524.3 1652.2,1523.8 1653.5,1527.0C1654.9,1530.2 1657.6,1537.6 1659.3,1543.0C1660.9,1548.3 1662.2,1553.1 1663.5,1559.0C1664.7,1564.8 1666.5,1572.3 1666.7,1578.2C1666.8,1584.0 1665.6,1589.4 1664.1,1594.1C1662.6,1598.9 1659.7,1602.7 1657.7,1606.9C1655.7,1611.2 1653.3,1615.7 1652.1,1619.7C1650.9,1623.7 1650.8,1627.4 1650.5,1630.9C1650.2,1634.4 1650.5,1639.2 1650.5,1640.8L1645.7,1640.8C1645.7,1639.2 1646.0,1634.4 1645.7,1630.9C1645.4,1627.4 1645.3,1623.7 1644.1,1619.7C1642.9,1615.7 1640.5,1611.2 1638.5,1606.9C1636.5,1602.7 1633.6,1598.9 1632.1,1594.1C1630.6,1589.4 1629.4,1584.0 1629.5,1578.2C1629.7,1572.3 1631.5,1564.8 1632.7,1559.0C1634.0,1553.1 1635.3,1548.3 1636.9,1543.0C1638.6,1537.6 1641.3,1530.2 1642.7,1527.0C1644.0,1523.8 1644.5,1524.3 1644.9,1523.8Z" fill="#06B800" stroke="#06B800" stroke-width="1.2" stroke-linejoin="round"/>
<path d="M1691.7,1575.0C1692.7,1577.6 1695.7,1585.6 1697.5,1590.9C1699.3,1596.3 1701.2,1602.7 1702.3,1606.9C1703.4,1611.2 1704.4,1613.6 1703.9,1616.5C1703.4,1619.5 1700.4,1622.1 1699.1,1624.5C1697.8,1626.9 1695.6,1629.3 1695.9,1630.9C1696.2,1632.5 1698.7,1632.5 1700.7,1634.1C1702.7,1635.8 1706.8,1639.7 1708.1,1640.8L1670.9,1640.8C1672.2,1639.7 1676.3,1635.8 1678.3,1634.1C1680.3,1632.5 1682.8,1632.5 1683.1,1630.9C1683.4,1629.3 1681.2,1626.9 1679.9,1624.5C1678.6,1622.1 1675.6,1619.5 1675.1,1616.5C1674.6,1613.6 1675.6,1611.2 1676.7,1606.9C1677.8,1602.7 1679.7,1596.3 1681.5,1590.9C1683.3,1585.6 1686.3,1577.6 1687.3,1575.0Z" fill="#00BF70" stroke="#00BF70" stroke-width="1.2" stroke-linejoin="round"/>
<path d="M1732.8,1509.4C1733.3,1511.3 1733.9,1516.3 1735.7,1520.6C1737.5,1524.9 1741.3,1529.4 1743.7,1535.0C1746.1,1540.6 1750.1,1548.3 1750.1,1554.2C1750.1,1560.0 1746.1,1565.1 1743.7,1570.2C1741.3,1575.2 1737.4,1580.6 1735.7,1584.6C1734.0,1588.6 1733.8,1589.9 1733.3,1594.1C1732.8,1598.4 1732.9,1607.5 1732.8,1610.1L1729.0,1610.1C1728.9,1607.5 1729.0,1598.4 1728.5,1594.1C1728.0,1589.9 1727.8,1588.6 1726.1,1584.6C1724.4,1580.6 1720.5,1575.2 1718.1,1570.2C1715.7,1565.1 1711.7,1560.0 1711.7,1554.2C1711.7,1548.3 1715.7,1540.6 1718.1,1535.0C1720.5,1529.4 1724.3,1524.9 1726.1,1520.6C1727.9,1516.3 1728.5,1511.3 1729.0,1509.4Z" fill="#00C2AD" stroke="#00C2AD" stroke-width="1.2" stroke-linejoin="round"/>
<path d="M1775.5,1549.4C1776.1,1549.9 1777.5,1550.4 1779.3,1552.6C1781.2,1554.7 1784.8,1558.4 1786.7,1562.2C1788.6,1565.9 1790.9,1570.7 1790.9,1575.0C1790.9,1579.2 1788.5,1583.0 1786.7,1587.8C1784.9,1592.5 1782.3,1598.9 1780.3,1603.7C1778.3,1608.5 1775.8,1613.3 1774.7,1616.5C1773.6,1619.7 1773.4,1620.5 1773.9,1622.9C1774.4,1625.3 1776.4,1627.9 1777.9,1630.9C1779.4,1633.9 1782.0,1639.2 1782.9,1640.8L1761.7,1640.8C1762.6,1639.2 1765.2,1633.9 1766.7,1630.9C1768.2,1627.9 1770.2,1625.3 1770.7,1622.9C1771.2,1620.5 1771.0,1619.7 1769.9,1616.5C1768.8,1613.3 1766.3,1608.5 1764.3,1603.7C1762.3,1598.9 1759.7,1592.5 1757.9,1587.8C1756.1,1583.0 1753.7,1579.2 1753.7,1575.0C1753.7,1570.7 1756.0,1565.9 1757.9,1562.2C1759.8,1558.4 1763.4,1554.7 1765.3,1552.6C1767.1,1550.4 1768.5,1549.9 1769.1,1549.4Z" fill="#00BCDC" stroke="#00BCDC" stroke-width="1.2" stroke-linejoin="round"/>
<path d="M1815.0,1548.6C1816.6,1550.3 1822.0,1555.1 1824.9,1559.0C1827.8,1562.8 1832.0,1567.5 1832.3,1571.8C1832.5,1576.0 1828.8,1580.3 1826.5,1584.6C1824.2,1588.8 1820.4,1593.9 1818.5,1597.3C1816.6,1600.8 1815.8,1604.0 1815.3,1605.3L1812.1,1605.3C1811.6,1604.0 1810.8,1600.8 1808.9,1597.3C1807.0,1593.9 1803.2,1588.8 1800.9,1584.6C1798.6,1580.3 1794.9,1576.0 1795.1,1571.8C1795.4,1567.5 1799.6,1562.8 1802.5,1559.0C1805.4,1555.1 1810.8,1550.3 1812.4,1548.6Z" fill="#00AEFE" stroke="#00AEFE" stroke-width="1.2" stroke-linejoin="round"/>
<path d="M1856.4,1553.4C1857.8,1555.4 1861.8,1560.7 1864.7,1565.4C1867.6,1570.0 1873.1,1576.6 1873.7,1581.4C1874.2,1586.2 1869.9,1589.9 1867.9,1594.1C1865.9,1598.4 1863.3,1603.2 1861.5,1606.9C1859.7,1610.7 1857.8,1611.7 1857.0,1616.5C1856.2,1621.3 1856.3,1631.7 1856.7,1635.7C1857.1,1639.8 1858.8,1640.0 1859.3,1640.8L1850.9,1640.8C1851.4,1640.0 1853.1,1639.8 1853.5,1635.7C1853.9,1631.7 1854.0,1621.3 1853.2,1616.5C1852.4,1611.7 1850.5,1610.7 1848.7,1606.9C1846.9,1603.2 1844.3,1598.4 1842.3,1594.1C1840.3,1589.9 1836.0,1586.2 1836.5,1581.4C1837.1,1576.6 1842.6,1570.0 1845.5,1565.4C1848.4,1560.7 1852.4,1555.4 1853.8,1553.4Z" fill="#8A93FF" stroke="#8A93FF" stroke-width="1.2" stroke-linejoin="round"/>
<path d="M1899.7,1547.8C1901.0,1549.6 1905.1,1554.4 1907.7,1559.0C1910.3,1563.5 1914.5,1569.6 1915.1,1575.0C1915.6,1580.3 1912.7,1585.6 1910.9,1590.9C1909.1,1596.3 1906.6,1602.1 1904.5,1606.9C1902.4,1611.7 1899.4,1617.6 1898.4,1619.7L1894.6,1619.7C1893.6,1617.6 1890.6,1611.7 1888.5,1606.9C1886.4,1602.1 1883.9,1596.3 1882.1,1590.9C1880.3,1585.6 1877.4,1580.3 1877.9,1575.0C1878.5,1569.6 1882.7,1563.5 1885.3,1559.0C1887.9,1554.4 1892.0,1549.6 1893.3,1547.8Z" fill="#DF70FF" stroke="#DF70FF" stroke-width="1.2" stroke-linejoin="round"/>
<path d="M1939.2,1563.8C1940.6,1565.6 1944.6,1569.9 1947.5,1575.0C1950.4,1580.0 1955.7,1588.8 1956.5,1594.1C1957.2,1599.5 1954.3,1602.7 1952.3,1606.9C1950.3,1611.2 1946.3,1616.3 1944.3,1619.7C1942.3,1623.2 1940.8,1625.1 1940.3,1627.7C1939.8,1630.4 1940.4,1633.5 1941.1,1635.7C1941.8,1637.9 1943.8,1640.0 1944.3,1640.8L1931.5,1640.8C1932.0,1640.0 1934.0,1637.9 1934.7,1635.7C1935.4,1633.5 1936.0,1630.4 1935.5,1627.7C1935.0,1625.1 1933.5,1623.2 1931.5,1619.7C1929.5,1616.3 1925.5,1611.2 1923.5,1606.9C1921.5,1602.7 1918.6,1599.5 1919.3,1594.1C1920.1,1588.8 1925.4,1580.0 1928.3,1575.0C1931.2,1569.9 1935.2,1565.6 1936.6,1563.8Z" fill="#FF5EDC" stroke="#FF5EDC" stroke-width="1.2" stroke-linejoin="round"/>
<path d="M1981.7,1568.6C1982.6,1570.7 1985.6,1577.1 1987.3,1581.4C1989.0,1585.6 1990.3,1589.9 1992.1,1594.1C1993.9,1598.4 1998.1,1602.7 1997.9,1606.9C1997.6,1611.2 1992.8,1615.7 1990.5,1619.7C1988.2,1623.7 1985.4,1627.4 1984.1,1630.9C1982.8,1634.4 1982.8,1639.2 1982.5,1640.8L1976.1,1640.8C1975.8,1639.2 1975.8,1634.4 1974.5,1630.9C1973.2,1627.4 1970.4,1623.7 1968.1,1619.7C1965.8,1615.7 1961.0,1611.2 1960.7,1606.9C1960.5,1602.7 1964.7,1598.4 1966.5,1594.1C1968.3,1589.9 1969.6,1585.6 1971.3,1581.4C1973.0,1577.1 1976.0,1570.7 1976.9,1568.6Z" fill="#FF60A8" stroke="#FF60A8" stroke-width="1.2" stroke-linejoin="round"/>
<path d="M1461,1508.4V1641.3H2004" fill="none" stroke="#151515" stroke-width="5.8" stroke-linejoin="round"/>
<text x="1697.5" y="1496.9" font-size="63.0" textLength="89.1" lengthAdjust="spacingAndGlyphs" font-style="italic" stroke="#141414" stroke-width="0.4" xml:space="preserve">Id3</text>
<g stroke="#646464" stroke-width="6.5" fill="none">
<path d="M1454.0,1661.0H1657.0"/>
<path d="M1662.0,1661.0H1741.0"/>
<path d="M1747.0,1661.0H1867.0"/>
<path d="M1872.0,1661.0H1989.0"/>
</g>
<text transform="translate(1536.5 1905.0) rotate(-80.50) skewX(7.00)" x="-1.8" y="0" font-size="61.0" textLength="214.3" lengthAdjust="spacingAndGlyphs" font-style="italic" stroke="#141414" stroke-width="0.4" xml:space="preserve">HSC I-V</text>
<text transform="translate(1667.0 2039.0) rotate(-80.50) skewX(7.00)" x="-2.0" y="0" font-size="61.0" textLength="356.7" lengthAdjust="spacingAndGlyphs" font-style="italic" stroke="#141414" stroke-width="0.4" xml:space="preserve">early MFB I-II</text>
<text transform="translate(1761.0 2103.0) rotate(-80.50) skewX(7.00)" x="-0.9" y="0" font-size="61.0" textLength="421.6" lengthAdjust="spacingAndGlyphs" font-style="italic" stroke="#141414" stroke-width="0.4" xml:space="preserve">interm. MFB I-III</text>
<text transform="translate(1901.0 2024.0) rotate(-80.50) skewX(7.00)" x="-1.0" y="0" font-size="61.0" textLength="345.7" lengthAdjust="spacingAndGlyphs" font-style="italic" stroke="#141414" stroke-width="0.4" xml:space="preserve">late MFB I-III</text>
</svg>
</body>
</html>
